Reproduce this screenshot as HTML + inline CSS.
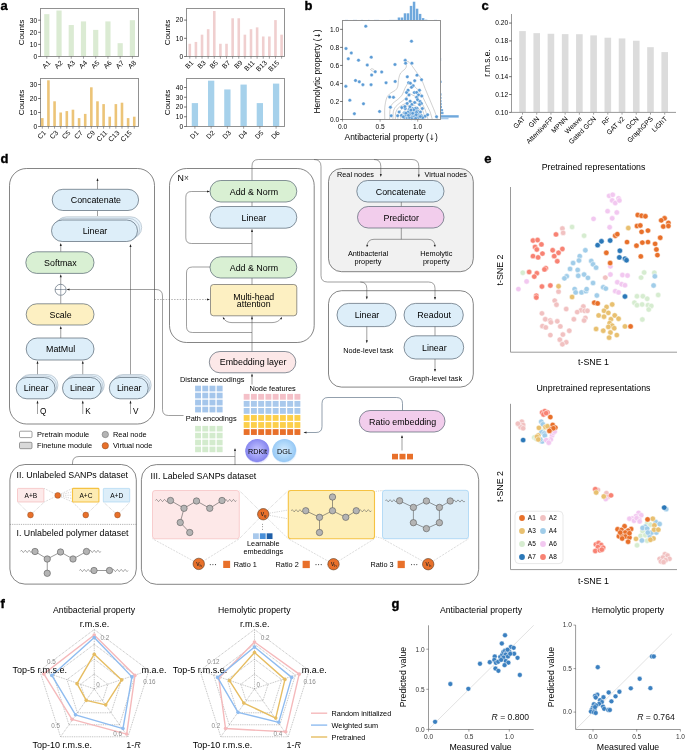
<!DOCTYPE html>
<html lang="en"><head><meta charset="utf-8"><title>Figure</title>
<style>
html,body{margin:0;padding:0;background:#fff;}
body{width:685px;height:751px;overflow:hidden;}
svg{display:block;}
svg text{font-family:"Liberation Sans", "DejaVu Sans", sans-serif;fill:#000;}
</style></head><body>
<svg width="685" height="751" viewBox="0 0 685 751">
<rect x="0" y="0" width="685" height="751" fill="#fff"/>
<text x="0.6" y="10.2" font-size="13" style="fill:#000" font-weight="bold" stroke="#000" stroke-width="0.35">a</text>
<rect x="44.2" y="14.15" width="5.2" height="42.35" fill="#dbebd3"/>
<rect x="56.43" y="10.52" width="5.2" height="45.98" fill="#dbebd3"/>
<rect x="68.66" y="25.04" width="5.2" height="31.46" fill="#dbebd3"/>
<rect x="80.89" y="21.41" width="5.2" height="35.09" fill="#dbebd3"/>
<rect x="93.12" y="29.88" width="5.2" height="26.62" fill="#dbebd3"/>
<rect x="105.35" y="21.41" width="5.2" height="35.09" fill="#dbebd3"/>
<rect x="117.58" y="43.19" width="5.2" height="13.31" fill="#dbebd3"/>
<rect x="129.81" y="20.2" width="5.2" height="36.3" fill="#dbebd3"/>
<rect x="40.5" y="8.5" width="98" height="48" fill="none" stroke="#8c8c8c" stroke-width="0.95"/>
<line x1="38.1" y1="56.5" x2="40.5" y2="56.5" stroke="#333" stroke-width="0.7"/>
<text x="37.1" y="58.8" font-size="6.6" text-anchor="end">0</text>
<line x1="38.1" y1="44.4" x2="40.5" y2="44.4" stroke="#333" stroke-width="0.7"/>
<text x="37.1" y="46.7" font-size="6.6" text-anchor="end">10</text>
<line x1="38.1" y1="32.3" x2="40.5" y2="32.3" stroke="#333" stroke-width="0.7"/>
<text x="37.1" y="34.6" font-size="6.6" text-anchor="end">20</text>
<line x1="38.1" y1="20.2" x2="40.5" y2="20.2" stroke="#333" stroke-width="0.7"/>
<text x="37.1" y="22.5" font-size="6.6" text-anchor="end">30</text>
<line x1="46.8" y1="56.5" x2="46.8" y2="58.7" stroke="#444" stroke-width="0.5"/>
<text x="51" y="63.3" font-size="6.9" text-anchor="end" style="fill:#000" transform="rotate(-45 51 63.3)">A1</text>
<line x1="59.03" y1="56.5" x2="59.03" y2="58.7" stroke="#444" stroke-width="0.5"/>
<text x="63.23" y="63.3" font-size="6.9" text-anchor="end" style="fill:#000" transform="rotate(-45 63.23 63.3)">A2</text>
<line x1="71.26" y1="56.5" x2="71.26" y2="58.7" stroke="#444" stroke-width="0.5"/>
<text x="75.46" y="63.3" font-size="6.9" text-anchor="end" style="fill:#000" transform="rotate(-45 75.46 63.3)">A3</text>
<line x1="83.49" y1="56.5" x2="83.49" y2="58.7" stroke="#444" stroke-width="0.5"/>
<text x="87.69" y="63.3" font-size="6.9" text-anchor="end" style="fill:#000" transform="rotate(-45 87.69 63.3)">A4</text>
<line x1="95.72" y1="56.5" x2="95.72" y2="58.7" stroke="#444" stroke-width="0.5"/>
<text x="99.92" y="63.3" font-size="6.9" text-anchor="end" style="fill:#000" transform="rotate(-45 99.92 63.3)">A5</text>
<line x1="107.95" y1="56.5" x2="107.95" y2="58.7" stroke="#444" stroke-width="0.5"/>
<text x="112.15" y="63.3" font-size="6.9" text-anchor="end" style="fill:#000" transform="rotate(-45 112.15 63.3)">A6</text>
<line x1="120.18" y1="56.5" x2="120.18" y2="58.7" stroke="#444" stroke-width="0.5"/>
<text x="124.38" y="63.3" font-size="6.9" text-anchor="end" style="fill:#000" transform="rotate(-45 124.38 63.3)">A7</text>
<line x1="132.41" y1="56.5" x2="132.41" y2="58.7" stroke="#444" stroke-width="0.5"/>
<text x="136.61" y="63.3" font-size="6.9" text-anchor="end" style="fill:#000" transform="rotate(-45 136.61 63.3)">A8</text>
<text x="23.5" y="32.5" font-size="8.1" text-anchor="middle" transform="rotate(-90 23.5 32.5)">Counts</text>
<rect x="41" y="118.1" width="2.6" height="8.4" fill="#ecc478"/>
<rect x="47.13" y="80.3" width="2.6" height="46.2" fill="#ecc478"/>
<rect x="53.26" y="101.3" width="2.6" height="25.2" fill="#ecc478"/>
<rect x="59.39" y="112.5" width="2.6" height="14" fill="#ecc478"/>
<rect x="65.52" y="111.1" width="2.6" height="15.4" fill="#ecc478"/>
<rect x="71.65" y="109.7" width="2.6" height="16.8" fill="#ecc478"/>
<rect x="77.78" y="118.1" width="2.6" height="8.4" fill="#ecc478"/>
<rect x="83.91" y="113.9" width="2.6" height="12.6" fill="#ecc478"/>
<rect x="90.04" y="87.3" width="2.6" height="39.2" fill="#ecc478"/>
<rect x="96.17" y="101.3" width="2.6" height="25.2" fill="#ecc478"/>
<rect x="102.3" y="104.1" width="2.6" height="22.4" fill="#ecc478"/>
<rect x="108.43" y="116.7" width="2.6" height="9.8" fill="#ecc478"/>
<rect x="114.56" y="104.1" width="2.6" height="22.4" fill="#ecc478"/>
<rect x="120.69" y="102.7" width="2.6" height="23.8" fill="#ecc478"/>
<rect x="126.82" y="118.1" width="2.6" height="8.4" fill="#ecc478"/>
<rect x="132.95" y="116.7" width="2.6" height="9.8" fill="#ecc478"/>
<rect x="40.5" y="78.5" width="98" height="48" fill="none" stroke="#8c8c8c" stroke-width="0.95"/>
<line x1="38.1" y1="126.5" x2="40.5" y2="126.5" stroke="#333" stroke-width="0.7"/>
<text x="37.1" y="128.8" font-size="6.6" text-anchor="end">0</text>
<line x1="38.1" y1="112.5" x2="40.5" y2="112.5" stroke="#333" stroke-width="0.7"/>
<text x="37.1" y="114.8" font-size="6.6" text-anchor="end">10</text>
<line x1="38.1" y1="98.5" x2="40.5" y2="98.5" stroke="#333" stroke-width="0.7"/>
<text x="37.1" y="100.8" font-size="6.6" text-anchor="end">20</text>
<line x1="38.1" y1="84.5" x2="40.5" y2="84.5" stroke="#333" stroke-width="0.7"/>
<text x="37.1" y="86.8" font-size="6.6" text-anchor="end">30</text>
<line x1="42.3" y1="126.5" x2="42.3" y2="128.7" stroke="#444" stroke-width="0.5"/>
<text x="46.5" y="133.3" font-size="6.9" text-anchor="end" style="fill:#000" transform="rotate(-45 46.5 133.3)">C1</text>
<line x1="48.43" y1="126.5" x2="48.43" y2="128.7" stroke="#444" stroke-width="0.5"/>
<line x1="54.56" y1="126.5" x2="54.56" y2="128.7" stroke="#444" stroke-width="0.5"/>
<text x="58.76" y="133.3" font-size="6.9" text-anchor="end" style="fill:#000" transform="rotate(-45 58.76 133.3)">C3</text>
<line x1="60.69" y1="126.5" x2="60.69" y2="128.7" stroke="#444" stroke-width="0.5"/>
<line x1="66.82" y1="126.5" x2="66.82" y2="128.7" stroke="#444" stroke-width="0.5"/>
<text x="71.02" y="133.3" font-size="6.9" text-anchor="end" style="fill:#000" transform="rotate(-45 71.02 133.3)">C5</text>
<line x1="72.95" y1="126.5" x2="72.95" y2="128.7" stroke="#444" stroke-width="0.5"/>
<line x1="79.08" y1="126.5" x2="79.08" y2="128.7" stroke="#444" stroke-width="0.5"/>
<text x="83.28" y="133.3" font-size="6.9" text-anchor="end" style="fill:#000" transform="rotate(-45 83.28 133.3)">C7</text>
<line x1="85.21" y1="126.5" x2="85.21" y2="128.7" stroke="#444" stroke-width="0.5"/>
<line x1="91.34" y1="126.5" x2="91.34" y2="128.7" stroke="#444" stroke-width="0.5"/>
<text x="95.54" y="133.3" font-size="6.9" text-anchor="end" style="fill:#000" transform="rotate(-45 95.54 133.3)">C9</text>
<line x1="97.47" y1="126.5" x2="97.47" y2="128.7" stroke="#444" stroke-width="0.5"/>
<line x1="103.6" y1="126.5" x2="103.6" y2="128.7" stroke="#444" stroke-width="0.5"/>
<text x="107.8" y="133.3" font-size="6.9" text-anchor="end" style="fill:#000" transform="rotate(-45 107.8 133.3)">C11</text>
<line x1="109.73" y1="126.5" x2="109.73" y2="128.7" stroke="#444" stroke-width="0.5"/>
<line x1="115.86" y1="126.5" x2="115.86" y2="128.7" stroke="#444" stroke-width="0.5"/>
<text x="120.06" y="133.3" font-size="6.9" text-anchor="end" style="fill:#000" transform="rotate(-45 120.06 133.3)">C13</text>
<line x1="121.99" y1="126.5" x2="121.99" y2="128.7" stroke="#444" stroke-width="0.5"/>
<line x1="128.12" y1="126.5" x2="128.12" y2="128.7" stroke="#444" stroke-width="0.5"/>
<text x="132.32" y="133.3" font-size="6.9" text-anchor="end" style="fill:#000" transform="rotate(-45 132.32 133.3)">C15</text>
<line x1="134.25" y1="126.5" x2="134.25" y2="128.7" stroke="#444" stroke-width="0.5"/>
<text x="23.5" y="102.5" font-size="8.1" text-anchor="middle" transform="rotate(-90 23.5 102.5)">Counts</text>
<rect x="188.5" y="43.76" width="2.6" height="12.74" fill="#f0cfcf"/>
<rect x="194.62" y="41.94" width="2.6" height="14.56" fill="#f0cfcf"/>
<rect x="200.74" y="34.66" width="2.6" height="21.84" fill="#f0cfcf"/>
<rect x="206.86" y="29.2" width="2.6" height="27.3" fill="#f0cfcf"/>
<rect x="212.98" y="11" width="2.6" height="45.5" fill="#f0cfcf"/>
<rect x="219.1" y="43.76" width="2.6" height="12.74" fill="#f0cfcf"/>
<rect x="225.22" y="43.76" width="2.6" height="12.74" fill="#f0cfcf"/>
<rect x="231.34" y="18.28" width="2.6" height="38.22" fill="#f0cfcf"/>
<rect x="237.46" y="18.28" width="2.6" height="38.22" fill="#f0cfcf"/>
<rect x="243.58" y="34.66" width="2.6" height="21.84" fill="#f0cfcf"/>
<rect x="249.7" y="29.2" width="2.6" height="27.3" fill="#f0cfcf"/>
<rect x="255.82" y="27.38" width="2.6" height="29.12" fill="#f0cfcf"/>
<rect x="261.94" y="36.48" width="2.6" height="20.02" fill="#f0cfcf"/>
<rect x="268.06" y="36.48" width="2.6" height="20.02" fill="#f0cfcf"/>
<rect x="274.18" y="20.1" width="2.6" height="36.4" fill="#f0cfcf"/>
<rect x="280.3" y="34.66" width="2.6" height="21.84" fill="#f0cfcf"/>
<rect x="186.5" y="8.5" width="98" height="48" fill="none" stroke="#8c8c8c" stroke-width="0.95"/>
<line x1="184.1" y1="56.5" x2="186.5" y2="56.5" stroke="#333" stroke-width="0.7"/>
<text x="183.1" y="58.8" font-size="6.6" text-anchor="end">0</text>
<line x1="184.1" y1="38.3" x2="186.5" y2="38.3" stroke="#333" stroke-width="0.7"/>
<text x="183.1" y="40.6" font-size="6.6" text-anchor="end">10</text>
<line x1="184.1" y1="20.1" x2="186.5" y2="20.1" stroke="#333" stroke-width="0.7"/>
<text x="183.1" y="22.4" font-size="6.6" text-anchor="end">20</text>
<line x1="189.8" y1="56.5" x2="189.8" y2="58.7" stroke="#444" stroke-width="0.5"/>
<text x="194" y="63.3" font-size="6.9" text-anchor="end" style="fill:#000" transform="rotate(-45 194 63.3)">B1</text>
<line x1="195.92" y1="56.5" x2="195.92" y2="58.7" stroke="#444" stroke-width="0.5"/>
<line x1="202.04" y1="56.5" x2="202.04" y2="58.7" stroke="#444" stroke-width="0.5"/>
<text x="206.24" y="63.3" font-size="6.9" text-anchor="end" style="fill:#000" transform="rotate(-45 206.24 63.3)">B3</text>
<line x1="208.16" y1="56.5" x2="208.16" y2="58.7" stroke="#444" stroke-width="0.5"/>
<line x1="214.28" y1="56.5" x2="214.28" y2="58.7" stroke="#444" stroke-width="0.5"/>
<text x="218.48" y="63.3" font-size="6.9" text-anchor="end" style="fill:#000" transform="rotate(-45 218.48 63.3)">B5</text>
<line x1="220.4" y1="56.5" x2="220.4" y2="58.7" stroke="#444" stroke-width="0.5"/>
<line x1="226.52" y1="56.5" x2="226.52" y2="58.7" stroke="#444" stroke-width="0.5"/>
<text x="230.72" y="63.3" font-size="6.9" text-anchor="end" style="fill:#000" transform="rotate(-45 230.72 63.3)">B7</text>
<line x1="232.64" y1="56.5" x2="232.64" y2="58.7" stroke="#444" stroke-width="0.5"/>
<line x1="238.76" y1="56.5" x2="238.76" y2="58.7" stroke="#444" stroke-width="0.5"/>
<text x="242.96" y="63.3" font-size="6.9" text-anchor="end" style="fill:#000" transform="rotate(-45 242.96 63.3)">B9</text>
<line x1="244.88" y1="56.5" x2="244.88" y2="58.7" stroke="#444" stroke-width="0.5"/>
<line x1="251" y1="56.5" x2="251" y2="58.7" stroke="#444" stroke-width="0.5"/>
<text x="255.2" y="63.3" font-size="6.9" text-anchor="end" style="fill:#000" transform="rotate(-45 255.2 63.3)">B11</text>
<line x1="257.12" y1="56.5" x2="257.12" y2="58.7" stroke="#444" stroke-width="0.5"/>
<line x1="263.24" y1="56.5" x2="263.24" y2="58.7" stroke="#444" stroke-width="0.5"/>
<text x="267.44" y="63.3" font-size="6.9" text-anchor="end" style="fill:#000" transform="rotate(-45 267.44 63.3)">B13</text>
<line x1="269.36" y1="56.5" x2="269.36" y2="58.7" stroke="#444" stroke-width="0.5"/>
<line x1="275.48" y1="56.5" x2="275.48" y2="58.7" stroke="#444" stroke-width="0.5"/>
<text x="279.68" y="63.3" font-size="6.9" text-anchor="end" style="fill:#000" transform="rotate(-45 279.68 63.3)">B15</text>
<line x1="281.6" y1="56.5" x2="281.6" y2="58.7" stroke="#444" stroke-width="0.5"/>
<text x="169.5" y="32.5" font-size="8.1" text-anchor="middle" transform="rotate(-90 169.5 32.5)">Counts</text>
<rect x="191.75" y="103.1" width="6.3" height="23.4" fill="#a6d1eb"/>
<rect x="207.99" y="80.68" width="6.3" height="45.82" fill="#a6d1eb"/>
<rect x="224.23" y="89.45" width="6.3" height="37.05" fill="#a6d1eb"/>
<rect x="240.47" y="84.58" width="6.3" height="41.92" fill="#a6d1eb"/>
<rect x="256.71" y="103.1" width="6.3" height="23.4" fill="#a6d1eb"/>
<rect x="272.95" y="83.6" width="6.3" height="42.9" fill="#a6d1eb"/>
<rect x="186.5" y="78.5" width="98" height="48" fill="none" stroke="#8c8c8c" stroke-width="0.95"/>
<line x1="184.1" y1="126.5" x2="186.5" y2="126.5" stroke="#333" stroke-width="0.7"/>
<text x="183.1" y="128.8" font-size="6.6" text-anchor="end">0</text>
<line x1="184.1" y1="116.75" x2="186.5" y2="116.75" stroke="#333" stroke-width="0.7"/>
<text x="183.1" y="119.05" font-size="6.6" text-anchor="end">10</text>
<line x1="184.1" y1="107" x2="186.5" y2="107" stroke="#333" stroke-width="0.7"/>
<text x="183.1" y="109.3" font-size="6.6" text-anchor="end">20</text>
<line x1="184.1" y1="97.25" x2="186.5" y2="97.25" stroke="#333" stroke-width="0.7"/>
<text x="183.1" y="99.55" font-size="6.6" text-anchor="end">30</text>
<line x1="184.1" y1="87.5" x2="186.5" y2="87.5" stroke="#333" stroke-width="0.7"/>
<text x="183.1" y="89.8" font-size="6.6" text-anchor="end">40</text>
<line x1="194.9" y1="126.5" x2="194.9" y2="128.7" stroke="#444" stroke-width="0.5"/>
<text x="199.1" y="133.3" font-size="6.9" text-anchor="end" style="fill:#000" transform="rotate(-45 199.1 133.3)">D1</text>
<line x1="211.14" y1="126.5" x2="211.14" y2="128.7" stroke="#444" stroke-width="0.5"/>
<text x="215.34" y="133.3" font-size="6.9" text-anchor="end" style="fill:#000" transform="rotate(-45 215.34 133.3)">D2</text>
<line x1="227.38" y1="126.5" x2="227.38" y2="128.7" stroke="#444" stroke-width="0.5"/>
<text x="231.58" y="133.3" font-size="6.9" text-anchor="end" style="fill:#000" transform="rotate(-45 231.58 133.3)">D3</text>
<line x1="243.62" y1="126.5" x2="243.62" y2="128.7" stroke="#444" stroke-width="0.5"/>
<text x="247.82" y="133.3" font-size="6.9" text-anchor="end" style="fill:#000" transform="rotate(-45 247.82 133.3)">D4</text>
<line x1="259.86" y1="126.5" x2="259.86" y2="128.7" stroke="#444" stroke-width="0.5"/>
<text x="264.06" y="133.3" font-size="6.9" text-anchor="end" style="fill:#000" transform="rotate(-45 264.06 133.3)">D5</text>
<line x1="276.1" y1="126.5" x2="276.1" y2="128.7" stroke="#444" stroke-width="0.5"/>
<text x="280.3" y="133.3" font-size="6.9" text-anchor="end" style="fill:#000" transform="rotate(-45 280.3 133.3)">D6</text>
<text x="169.5" y="102.5" font-size="8.1" text-anchor="middle" transform="rotate(-90 169.5 102.5)">Counts</text>
<text x="304.6" y="10.2" font-size="13" style="fill:#000" font-weight="bold" stroke="#000" stroke-width="0.35">b</text>
<rect x="397.7" y="17.5" width="2.5" height="3" fill="#6fa8dc"/>
<rect x="400.72" y="17.5" width="2.5" height="3" fill="#6fa8dc"/>
<rect x="403.74" y="13.3" width="2.5" height="7.2" fill="#6fa8dc"/>
<rect x="406.76" y="13.3" width="2.5" height="7.2" fill="#6fa8dc"/>
<rect x="409.78" y="5.9" width="2.5" height="14.6" fill="#6fa8dc"/>
<rect x="412.8" y="1.7" width="2.5" height="18.8" fill="#6fa8dc"/>
<rect x="415.82" y="8.7" width="2.5" height="11.8" fill="#6fa8dc"/>
<rect x="418.84" y="13.9" width="2.5" height="6.6" fill="#6fa8dc"/>
<rect x="421.86" y="18.1" width="2.5" height="2.4" fill="#6fa8dc"/>
<rect x="424.88" y="19.7" width="2.5" height="0.8" fill="#6fa8dc"/>
<rect x="345" y="19.9" width="3" height="0.6" fill="#6fa8dc"/>
<rect x="353" y="19.9" width="4" height="0.6" fill="#6fa8dc"/>
<rect x="361" y="19.9" width="2" height="0.6" fill="#6fa8dc"/>
<rect x="368" y="19.9" width="1.5" height="0.6" fill="#6fa8dc"/>
<rect x="374" y="19.9" width="5" height="0.6" fill="#6fa8dc"/>
<rect x="389" y="19.9" width="8" height="0.6" fill="#6fa8dc"/>
<rect x="434" y="19.9" width="3" height="0.6" fill="#6fa8dc"/>
<rect x="440.5" y="115.2" width="18.2" height="2.4" fill="#6fa8dc"/>
<rect x="440.5" y="117.9" width="8" height="1.4" fill="#6fa8dc" opacity="0.6"/>
<rect x="440.5" y="111.9" width="3" height="2.3" fill="#6fa8dc"/>
<rect x="440.5" y="109.1" width="2.6" height="2.2" fill="#6fa8dc"/>
<rect x="440.5" y="105.9" width="1.4" height="2.3" fill="#6fa8dc"/>
<rect x="440.5" y="102.9" width="1.2" height="2.3" fill="#6fa8dc"/>
<rect x="440.5" y="99.9" width="1" height="2.3" fill="#6fa8dc"/>
<rect x="440.5" y="96.9" width="1" height="2" fill="#6fa8dc"/>
<rect x="440.5" y="93.3" width="1" height="2.3" fill="#6fa8dc"/>
<rect x="440.5" y="80.7" width="1.1" height="2.2" fill="#6fa8dc"/>
<rect x="440.5" y="58" width="0.6" height="3" fill="#6fa8dc"/>
<path d="M384.79,119.22 C384.79,117.27 384.47,111.07 384.79,107.53 C385.11,103.98 385.75,100.34 386.71,97.94 C387.67,95.54 389.11,94.42 390.55,93.14 C391.98,91.87 394.14,91.39 395.34,90.27 C396.54,89.15 397.18,88.35 397.74,86.43 C398.3,84.52 398.22,81 398.7,78.76 C399.18,76.53 399.57,74.61 400.61,73.01 C401.65,71.41 403.97,70.29 404.93,69.18 C405.89,68.06 406.21,67.34 406.37,66.3 C406.53,65.26 405.78,63.74 405.89,62.94 C406,62.14 406.56,61.67 407.04,61.51 C407.52,61.35 408,61.35 408.76,61.98 C409.53,62.62 410.36,63.66 411.64,65.34 C412.92,67.02 414.84,69.81 416.43,72.05 C418.03,74.29 419.79,76.05 421.23,78.76 C422.67,81.48 423.62,84.84 425.06,88.35 C426.5,91.87 428.26,96.02 429.86,99.86 C431.45,103.69 433.37,108.13 434.65,111.36 C435.93,114.59 437.05,117.91 437.53,119.22" fill="none" stroke="#8a8a8a" stroke-width="0.4"/>
<path d="M389.59,119.22 C389.67,117.59 389.59,112.03 390.07,109.44 C390.55,106.86 391.27,105.29 392.46,103.69 C393.66,102.09 395.66,101.29 397.26,99.86 C398.86,98.42 400.77,96.98 402.05,95.06 C403.33,93.14 403.97,90.27 404.93,88.35 C405.89,86.43 407.01,84.6 407.8,83.56 C408.6,82.52 408.76,81.8 409.72,82.12 C410.68,82.44 412.12,84.12 413.56,85.47 C415,86.83 416.91,88.51 418.35,90.27 C419.79,92.03 420.91,93.78 422.19,96.02 C423.46,98.26 424.74,101.13 426.02,103.69 C427.3,106.25 428.82,108.77 429.86,111.36 C430.89,113.95 431.85,117.91 432.25,119.22" fill="none" stroke="#8a8a8a" stroke-width="0.4"/>
<path d="M392.94,119.22 C393.02,117.91 392.94,113.47 393.42,111.36 C393.9,109.25 394.7,108.01 395.82,106.57 C396.94,105.13 398.62,104.01 400.13,102.73 C401.65,101.45 403.65,100.18 404.93,98.9 C406.21,97.62 407.09,95.94 407.8,95.06 C408.52,94.18 408.44,93.62 409.24,93.62 C410.04,93.62 411.24,94.34 412.6,95.06 C413.96,95.78 415.95,96.74 417.39,97.94 C418.83,99.14 419.95,100.34 421.23,102.25 C422.51,104.17 423.94,106.62 425.06,109.44 C426.18,112.27 427.46,117.59 427.94,119.22" fill="none" stroke="#8a8a8a" stroke-width="0.4"/>
<path d="M395.34,119.22 C395.42,118.07 395.26,114.27 395.82,112.32 C396.38,110.37 397.34,108.88 398.7,107.53 C400.05,106.17 402.29,105.05 403.97,104.17 C405.65,103.29 407.33,102.65 408.76,102.25 C410.2,101.85 411.16,101.53 412.6,101.77 C414.04,102.01 415.95,102.73 417.39,103.69 C418.83,104.65 420.19,105.93 421.23,107.53 C422.27,109.12 422.98,111.33 423.62,113.28 C424.26,115.23 424.82,118.23 425.06,119.22" fill="none" stroke="#8a8a8a" stroke-width="0.4"/>
<path d="M397.74,119.22 C397.9,118.23 397.98,114.99 398.7,113.28 C399.42,111.57 400.69,110.16 402.05,108.96 C403.41,107.77 405.25,106.73 406.85,106.09 C408.44,105.45 410.04,105.05 411.64,105.13 C413.24,105.21 415.08,105.77 416.43,106.57 C417.79,107.37 418.91,108.49 419.79,109.92 C420.67,111.36 421.31,113.65 421.71,115.2 C422.11,116.75 422.11,118.55 422.19,119.22" fill="none" stroke="#8a8a8a" stroke-width="0.4"/>
<path d="M400.61,119.22 C400.77,118.39 400.85,115.71 401.57,114.24 C402.29,112.77 403.57,111.36 404.93,110.4 C406.29,109.44 408.28,108.84 409.72,108.49 C411.16,108.13 412.36,107.97 413.56,108.29 C414.76,108.61 416.03,109.41 416.91,110.4 C417.79,111.39 418.4,112.77 418.83,114.24 C419.26,115.71 419.39,118.39 419.5,119.22" fill="none" stroke="#8a8a8a" stroke-width="0.4"/>
<path d="M403.97,119.22 C404.21,118.39 404.61,115.47 405.41,114.24 C406.21,113.01 407.56,112.32 408.76,111.84 C409.96,111.36 411.48,111.12 412.6,111.36 C413.72,111.6 414.84,111.97 415.47,113.28 C416.11,114.59 416.27,118.23 416.43,119.22" fill="none" stroke="#8a8a8a" stroke-width="0.4"/>
<path d="M370.7,69.3 C371.4,68.3 373,68.7 374.5,70.2 C375.6,71.7 374.5,72.1 373,71.4 C371.8,70.6 370.3,70.2 370.7,69.3 Z" fill="none" stroke="#8a8a8a" stroke-width="0.4"/>
<path d="M358.2,81.2 C358.9,80.8 360,81.6 360.4,82.4" fill="none" stroke="#8a8a8a" stroke-width="0.4"/>
<circle cx="365.75" cy="26.19" r="1.75" fill="#5b9bd5" stroke="#fff" stroke-width="0.4"/>
<circle cx="411.49" cy="41.18" r="1.75" fill="#5b9bd5" stroke="#fff" stroke-width="0.4"/>
<circle cx="346.01" cy="48.59" r="1.75" fill="#5b9bd5" stroke="#fff" stroke-width="0.4"/>
<circle cx="351.32" cy="52.95" r="1.75" fill="#5b9bd5" stroke="#fff" stroke-width="0.4"/>
<circle cx="348.29" cy="58.83" r="1.75" fill="#5b9bd5" stroke="#fff" stroke-width="0.4"/>
<circle cx="358.53" cy="60.16" r="1.75" fill="#5b9bd5" stroke="#fff" stroke-width="0.4"/>
<circle cx="371.25" cy="57.13" r="1.75" fill="#5b9bd5" stroke="#fff" stroke-width="0.4"/>
<circle cx="367.26" cy="65.1" r="1.75" fill="#5b9bd5" stroke="#fff" stroke-width="0.4"/>
<circle cx="394.97" cy="64.53" r="1.75" fill="#5b9bd5" stroke="#fff" stroke-width="0.4"/>
<circle cx="405.22" cy="60.35" r="1.75" fill="#5b9bd5" stroke="#fff" stroke-width="0.4"/>
<circle cx="405.6" cy="63.2" r="1.75" fill="#5b9bd5" stroke="#fff" stroke-width="0.4"/>
<circle cx="411.86" cy="63.2" r="1.75" fill="#5b9bd5" stroke="#fff" stroke-width="0.4"/>
<circle cx="375.24" cy="71.74" r="1.75" fill="#5b9bd5" stroke="#fff" stroke-width="0.4"/>
<circle cx="381.69" cy="71.93" r="1.75" fill="#5b9bd5" stroke="#fff" stroke-width="0.4"/>
<circle cx="371.63" cy="74.97" r="1.75" fill="#5b9bd5" stroke="#fff" stroke-width="0.4"/>
<circle cx="407.31" cy="76.86" r="1.75" fill="#5b9bd5" stroke="#fff" stroke-width="0.4"/>
<circle cx="416.99" cy="75.16" r="1.75" fill="#5b9bd5" stroke="#fff" stroke-width="0.4"/>
<circle cx="355.5" cy="80.47" r="1.75" fill="#5b9bd5" stroke="#fff" stroke-width="0.4"/>
<circle cx="359.29" cy="81.8" r="1.75" fill="#5b9bd5" stroke="#fff" stroke-width="0.4"/>
<circle cx="362.9" cy="84.65" r="1.75" fill="#5b9bd5" stroke="#fff" stroke-width="0.4"/>
<circle cx="371.06" cy="84.65" r="1.75" fill="#5b9bd5" stroke="#fff" stroke-width="0.4"/>
<circle cx="386.05" cy="82.75" r="1.75" fill="#5b9bd5" stroke="#fff" stroke-width="0.4"/>
<circle cx="395.16" cy="81.42" r="1.75" fill="#5b9bd5" stroke="#fff" stroke-width="0.4"/>
<circle cx="421.54" cy="79.71" r="1.75" fill="#5b9bd5" stroke="#fff" stroke-width="0.4"/>
<circle cx="414.71" cy="80.66" r="1.75" fill="#5b9bd5" stroke="#fff" stroke-width="0.4"/>
<circle cx="345.82" cy="86.35" r="1.75" fill="#5b9bd5" stroke="#fff" stroke-width="0.4"/>
<circle cx="408.64" cy="82.75" r="1.75" fill="#5b9bd5" stroke="#fff" stroke-width="0.4"/>
<circle cx="410.35" cy="83.13" r="1.75" fill="#5b9bd5" stroke="#fff" stroke-width="0.4"/>
<circle cx="413.19" cy="85.78" r="1.75" fill="#5b9bd5" stroke="#fff" stroke-width="0.4"/>
<circle cx="411.49" cy="87.3" r="1.75" fill="#5b9bd5" stroke="#fff" stroke-width="0.4"/>
<circle cx="408.07" cy="90.15" r="1.75" fill="#5b9bd5" stroke="#fff" stroke-width="0.4"/>
<circle cx="419.46" cy="90.15" r="1.75" fill="#5b9bd5" stroke="#fff" stroke-width="0.4"/>
<circle cx="406.55" cy="92.62" r="1.75" fill="#5b9bd5" stroke="#fff" stroke-width="0.4"/>
<circle cx="414.33" cy="92.62" r="1.75" fill="#5b9bd5" stroke="#fff" stroke-width="0.4"/>
<circle cx="416.61" cy="92.43" r="1.75" fill="#5b9bd5" stroke="#fff" stroke-width="0.4"/>
<circle cx="409.02" cy="94.89" r="1.75" fill="#5b9bd5" stroke="#fff" stroke-width="0.4"/>
<circle cx="418.51" cy="94.89" r="1.75" fill="#5b9bd5" stroke="#fff" stroke-width="0.4"/>
<circle cx="421.73" cy="96.03" r="1.75" fill="#5b9bd5" stroke="#fff" stroke-width="0.4"/>
<circle cx="389.66" cy="96.98" r="1.75" fill="#5b9bd5" stroke="#fff" stroke-width="0.4"/>
<circle cx="393.46" cy="97.36" r="1.75" fill="#5b9bd5" stroke="#fff" stroke-width="0.4"/>
<circle cx="349.8" cy="100.21" r="1.75" fill="#5b9bd5" stroke="#fff" stroke-width="0.4"/>
<circle cx="406.36" cy="99.07" r="1.75" fill="#5b9bd5" stroke="#fff" stroke-width="0.4"/>
<circle cx="410.16" cy="101.16" r="1.75" fill="#5b9bd5" stroke="#fff" stroke-width="0.4"/>
<circle cx="416.61" cy="97.36" r="1.75" fill="#5b9bd5" stroke="#fff" stroke-width="0.4"/>
<circle cx="417.56" cy="99.64" r="1.75" fill="#5b9bd5" stroke="#fff" stroke-width="0.4"/>
<circle cx="363.47" cy="103.81" r="1.75" fill="#5b9bd5" stroke="#fff" stroke-width="0.4"/>
<circle cx="420.03" cy="101.54" r="1.75" fill="#5b9bd5" stroke="#fff" stroke-width="0.4"/>
<circle cx="421.35" cy="103.44" r="1.75" fill="#5b9bd5" stroke="#fff" stroke-width="0.4"/>
<circle cx="407.12" cy="103.44" r="1.75" fill="#5b9bd5" stroke="#fff" stroke-width="0.4"/>
<circle cx="411.86" cy="104.38" r="1.75" fill="#5b9bd5" stroke="#fff" stroke-width="0.4"/>
<circle cx="414.71" cy="102.49" r="1.75" fill="#5b9bd5" stroke="#fff" stroke-width="0.4"/>
<circle cx="390.42" cy="107.23" r="1.75" fill="#5b9bd5" stroke="#fff" stroke-width="0.4"/>
<circle cx="379.6" cy="111.41" r="1.75" fill="#5b9bd5" stroke="#fff" stroke-width="0.4"/>
<circle cx="354.36" cy="113.68" r="1.75" fill="#5b9bd5" stroke="#fff" stroke-width="0.4"/>
<circle cx="401.81" cy="107.61" r="1.75" fill="#5b9bd5" stroke="#fff" stroke-width="0.4"/>
<circle cx="405.22" cy="108.56" r="1.75" fill="#5b9bd5" stroke="#fff" stroke-width="0.4"/>
<circle cx="409.4" cy="109.13" r="1.75" fill="#5b9bd5" stroke="#fff" stroke-width="0.4"/>
<circle cx="412.81" cy="108.56" r="1.75" fill="#5b9bd5" stroke="#fff" stroke-width="0.4"/>
<circle cx="416.99" cy="108.18" r="1.75" fill="#5b9bd5" stroke="#fff" stroke-width="0.4"/>
<circle cx="422.3" cy="108.56" r="1.75" fill="#5b9bd5" stroke="#fff" stroke-width="0.4"/>
<circle cx="399.15" cy="111.98" r="1.75" fill="#5b9bd5" stroke="#fff" stroke-width="0.4"/>
<circle cx="404.27" cy="112.92" r="1.75" fill="#5b9bd5" stroke="#fff" stroke-width="0.4"/>
<circle cx="408.07" cy="111.98" r="1.75" fill="#5b9bd5" stroke="#fff" stroke-width="0.4"/>
<circle cx="411.86" cy="111.98" r="1.75" fill="#5b9bd5" stroke="#fff" stroke-width="0.4"/>
<circle cx="414.71" cy="111.03" r="1.75" fill="#5b9bd5" stroke="#fff" stroke-width="0.4"/>
<circle cx="417.56" cy="111.03" r="1.75" fill="#5b9bd5" stroke="#fff" stroke-width="0.4"/>
<circle cx="420.41" cy="111.98" r="1.75" fill="#5b9bd5" stroke="#fff" stroke-width="0.4"/>
<circle cx="391.18" cy="115.77" r="1.75" fill="#5b9bd5" stroke="#fff" stroke-width="0.4"/>
<circle cx="397.63" cy="115.77" r="1.75" fill="#5b9bd5" stroke="#fff" stroke-width="0.4"/>
<circle cx="401.43" cy="115.39" r="1.75" fill="#5b9bd5" stroke="#fff" stroke-width="0.4"/>
<circle cx="405.6" cy="115.77" r="1.75" fill="#5b9bd5" stroke="#fff" stroke-width="0.4"/>
<circle cx="409.02" cy="115.2" r="1.75" fill="#5b9bd5" stroke="#fff" stroke-width="0.4"/>
<circle cx="411.3" cy="116.15" r="1.75" fill="#5b9bd5" stroke="#fff" stroke-width="0.4"/>
<circle cx="413.76" cy="114.82" r="1.75" fill="#5b9bd5" stroke="#fff" stroke-width="0.4"/>
<circle cx="416.23" cy="115.77" r="1.75" fill="#5b9bd5" stroke="#fff" stroke-width="0.4"/>
<circle cx="418.51" cy="114.82" r="1.75" fill="#5b9bd5" stroke="#fff" stroke-width="0.4"/>
<circle cx="421.35" cy="115.77" r="1.75" fill="#5b9bd5" stroke="#fff" stroke-width="0.4"/>
<circle cx="425.15" cy="116.15" r="1.75" fill="#5b9bd5" stroke="#fff" stroke-width="0.4"/>
<circle cx="427.62" cy="114.82" r="1.75" fill="#5b9bd5" stroke="#fff" stroke-width="0.4"/>
<circle cx="436.54" cy="116.72" r="1.75" fill="#5b9bd5" stroke="#fff" stroke-width="0.4"/>
<circle cx="404.27" cy="117.67" r="1.75" fill="#5b9bd5" stroke="#fff" stroke-width="0.4"/>
<circle cx="407.12" cy="118.05" r="1.75" fill="#5b9bd5" stroke="#fff" stroke-width="0.4"/>
<circle cx="410.54" cy="118.05" r="1.75" fill="#5b9bd5" stroke="#fff" stroke-width="0.4"/>
<circle cx="412.81" cy="118.05" r="1.75" fill="#5b9bd5" stroke="#fff" stroke-width="0.4"/>
<circle cx="415.09" cy="117.67" r="1.75" fill="#5b9bd5" stroke="#fff" stroke-width="0.4"/>
<circle cx="417.75" cy="117.67" r="1.75" fill="#5b9bd5" stroke="#fff" stroke-width="0.4"/>
<circle cx="420.03" cy="117.29" r="1.75" fill="#5b9bd5" stroke="#fff" stroke-width="0.4"/>
<circle cx="422.68" cy="117.67" r="1.75" fill="#5b9bd5" stroke="#fff" stroke-width="0.4"/>
<circle cx="411.93" cy="115.5" r="1.75" fill="#5b9bd5" stroke="#fff" stroke-width="0.4"/>
<circle cx="412.08" cy="116.92" r="1.75" fill="#5b9bd5" stroke="#fff" stroke-width="0.4"/>
<circle cx="408.6" cy="117.65" r="1.75" fill="#5b9bd5" stroke="#fff" stroke-width="0.4"/>
<circle cx="418.68" cy="116.13" r="1.75" fill="#5b9bd5" stroke="#fff" stroke-width="0.4"/>
<circle cx="418.31" cy="117.39" r="1.75" fill="#5b9bd5" stroke="#fff" stroke-width="0.4"/>
<circle cx="415.14" cy="117.85" r="1.75" fill="#5b9bd5" stroke="#fff" stroke-width="0.4"/>
<circle cx="404.97" cy="113.02" r="1.75" fill="#5b9bd5" stroke="#fff" stroke-width="0.4"/>
<circle cx="415.69" cy="115.59" r="1.75" fill="#5b9bd5" stroke="#fff" stroke-width="0.4"/>
<circle cx="404.85" cy="106.61" r="1.75" fill="#5b9bd5" stroke="#fff" stroke-width="0.4"/>
<circle cx="408.8" cy="115.81" r="1.75" fill="#5b9bd5" stroke="#fff" stroke-width="0.4"/>
<circle cx="414.7" cy="118.43" r="1.75" fill="#5b9bd5" stroke="#fff" stroke-width="0.4"/>
<circle cx="415.76" cy="114.56" r="1.75" fill="#5b9bd5" stroke="#fff" stroke-width="0.4"/>
<circle cx="414.72" cy="116.35" r="1.75" fill="#5b9bd5" stroke="#fff" stroke-width="0.4"/>
<circle cx="409.93" cy="106.8" r="1.75" fill="#5b9bd5" stroke="#fff" stroke-width="0.4"/>
<circle cx="415.94" cy="110.55" r="1.75" fill="#5b9bd5" stroke="#fff" stroke-width="0.4"/>
<circle cx="410.13" cy="113.85" r="1.75" fill="#5b9bd5" stroke="#fff" stroke-width="0.4"/>
<circle cx="411.5" cy="118.42" r="1.75" fill="#5b9bd5" stroke="#fff" stroke-width="0.4"/>
<circle cx="416.31" cy="117.4" r="1.75" fill="#5b9bd5" stroke="#fff" stroke-width="0.4"/>
<circle cx="410.99" cy="112.29" r="1.75" fill="#5b9bd5" stroke="#fff" stroke-width="0.4"/>
<circle cx="410.62" cy="110.38" r="1.75" fill="#5b9bd5" stroke="#fff" stroke-width="0.4"/>
<circle cx="409.21" cy="117.42" r="1.75" fill="#5b9bd5" stroke="#fff" stroke-width="0.4"/>
<circle cx="415.3" cy="108.44" r="1.75" fill="#5b9bd5" stroke="#fff" stroke-width="0.4"/>
<circle cx="413.43" cy="109.77" r="1.75" fill="#5b9bd5" stroke="#fff" stroke-width="0.4"/>
<circle cx="403.25" cy="116.87" r="1.75" fill="#5b9bd5" stroke="#fff" stroke-width="0.4"/>
<circle cx="412.67" cy="113.29" r="1.75" fill="#5b9bd5" stroke="#fff" stroke-width="0.4"/>
<circle cx="415.65" cy="118.43" r="1.75" fill="#5b9bd5" stroke="#fff" stroke-width="0.4"/>
<circle cx="405.97" cy="113.22" r="1.75" fill="#5b9bd5" stroke="#fff" stroke-width="0.4"/>
<circle cx="416.5" cy="112.37" r="1.75" fill="#5b9bd5" stroke="#fff" stroke-width="0.4"/>
<circle cx="420.3" cy="116.58" r="1.75" fill="#5b9bd5" stroke="#fff" stroke-width="0.4"/>
<circle cx="413.78" cy="109.82" r="1.75" fill="#5b9bd5" stroke="#fff" stroke-width="0.4"/>
<circle cx="416.23" cy="114.78" r="1.75" fill="#5b9bd5" stroke="#fff" stroke-width="0.4"/>
<circle cx="410.96" cy="110.07" r="1.75" fill="#5b9bd5" stroke="#fff" stroke-width="0.4"/>
<circle cx="408.42" cy="115.36" r="1.75" fill="#5b9bd5" stroke="#fff" stroke-width="0.4"/>
<circle cx="419.55" cy="104.53" r="1.75" fill="#5b9bd5" stroke="#fff" stroke-width="0.4"/>
<rect x="342.5" y="20.5" width="98" height="99" fill="none" stroke="#8c8c8c" stroke-width="0.95"/>
<line x1="340.1" y1="119.5" x2="342.5" y2="119.5" stroke="#333" stroke-width="0.7"/>
<text x="339.1" y="121.8" font-size="6.6" text-anchor="end">0.0</text>
<line x1="340.1" y1="101.47" x2="342.5" y2="101.47" stroke="#333" stroke-width="0.7"/>
<text x="339.1" y="103.77" font-size="6.6" text-anchor="end">0.2</text>
<line x1="340.1" y1="83.44" x2="342.5" y2="83.44" stroke="#333" stroke-width="0.7"/>
<text x="339.1" y="85.74" font-size="6.6" text-anchor="end">0.4</text>
<line x1="340.1" y1="65.41" x2="342.5" y2="65.41" stroke="#333" stroke-width="0.7"/>
<text x="339.1" y="67.71" font-size="6.6" text-anchor="end">0.6</text>
<line x1="340.1" y1="47.38" x2="342.5" y2="47.38" stroke="#333" stroke-width="0.7"/>
<text x="339.1" y="49.68" font-size="6.6" text-anchor="end">0.8</text>
<line x1="340.1" y1="29.35" x2="342.5" y2="29.35" stroke="#333" stroke-width="0.7"/>
<text x="339.1" y="31.65" font-size="6.6" text-anchor="end">1.0</text>
<line x1="342.5" y1="119.5" x2="342.5" y2="121.7" stroke="#444" stroke-width="0.5"/>
<text x="342.5" y="128.7" font-size="6.6" text-anchor="middle">0.0</text>
<line x1="380.1" y1="119.5" x2="380.1" y2="121.7" stroke="#444" stroke-width="0.5"/>
<text x="380.1" y="128.7" font-size="6.6" text-anchor="middle">0.5</text>
<line x1="417.7" y1="119.5" x2="417.7" y2="121.7" stroke="#444" stroke-width="0.5"/>
<text x="417.7" y="128.7" font-size="6.6" text-anchor="middle">1.0</text>
<text x="391.2" y="139.6" font-size="8.4" text-anchor="middle">Antibacterial property (<tspan font-family="DejaVu Sans" font-size="7.4">↓</tspan>)</text>
<text x="320" y="71.5" font-size="8.4" text-anchor="middle" transform="rotate(-90 320 71.5)">Hemolytic property (<tspan font-family="DejaVu Sans" font-size="7.4">↓</tspan>)</text>
<text x="481.4" y="10.2" font-size="13" style="fill:#000" font-weight="bold" stroke="#000" stroke-width="0.35">c</text>
<rect x="519.2" y="31.09" width="6.6" height="81.31" fill="#dcdcdc"/>
<line x1="522.5" y1="112.4" x2="522.5" y2="114.6" stroke="#444" stroke-width="0.5"/>
<text x="525.5" y="119.4" font-size="6.8" text-anchor="end" transform="rotate(-45 525.5 119.4)">GAT</text>
<rect x="533.42" y="33.15" width="6.6" height="79.25" fill="#dcdcdc"/>
<line x1="536.72" y1="112.4" x2="536.72" y2="114.6" stroke="#444" stroke-width="0.5"/>
<text x="539.72" y="119.4" font-size="6.8" text-anchor="end" transform="rotate(-45 539.72 119.4)">GIN</text>
<rect x="547.64" y="33.77" width="6.6" height="78.63" fill="#dcdcdc"/>
<line x1="550.94" y1="112.4" x2="550.94" y2="114.6" stroke="#444" stroke-width="0.5"/>
<text x="553.94" y="119.4" font-size="6.8" text-anchor="end" transform="rotate(-45 553.94 119.4)">AttentiveFP</text>
<rect x="561.86" y="34.13" width="6.6" height="78.27" fill="#dcdcdc"/>
<line x1="565.16" y1="112.4" x2="565.16" y2="114.6" stroke="#444" stroke-width="0.5"/>
<text x="568.16" y="119.4" font-size="6.8" text-anchor="end" transform="rotate(-45 568.16 119.4)">MPNN</text>
<rect x="576.08" y="34.22" width="6.6" height="78.18" fill="#dcdcdc"/>
<line x1="579.38" y1="112.4" x2="579.38" y2="114.6" stroke="#444" stroke-width="0.5"/>
<text x="582.38" y="119.4" font-size="6.8" text-anchor="end" transform="rotate(-45 582.38 119.4)">Weave</text>
<rect x="590.3" y="35.38" width="6.6" height="77.02" fill="#dcdcdc"/>
<line x1="593.6" y1="112.4" x2="593.6" y2="114.6" stroke="#444" stroke-width="0.5"/>
<text x="596.6" y="119.4" font-size="6.8" text-anchor="end" transform="rotate(-45 596.6 119.4)">Gated GCN</text>
<rect x="604.52" y="37.7" width="6.6" height="74.7" fill="#dcdcdc"/>
<line x1="607.82" y1="112.4" x2="607.82" y2="114.6" stroke="#444" stroke-width="0.5"/>
<text x="610.82" y="119.4" font-size="6.8" text-anchor="end" transform="rotate(-45 610.82 119.4)">RF</text>
<rect x="618.74" y="38.42" width="6.6" height="73.98" fill="#dcdcdc"/>
<line x1="622.04" y1="112.4" x2="622.04" y2="114.6" stroke="#444" stroke-width="0.5"/>
<text x="625.04" y="119.4" font-size="6.8" text-anchor="end" transform="rotate(-45 625.04 119.4)">GAT v2</text>
<rect x="632.96" y="40.74" width="6.6" height="71.66" fill="#dcdcdc"/>
<line x1="636.26" y1="112.4" x2="636.26" y2="114.6" stroke="#444" stroke-width="0.5"/>
<text x="639.26" y="119.4" font-size="6.8" text-anchor="end" transform="rotate(-45 639.26 119.4)">GCN</text>
<rect x="647.18" y="47.17" width="6.6" height="65.23" fill="#dcdcdc"/>
<line x1="650.48" y1="112.4" x2="650.48" y2="114.6" stroke="#444" stroke-width="0.5"/>
<text x="653.48" y="119.4" font-size="6.8" text-anchor="end" transform="rotate(-45 653.48 119.4)">GraphGPS</text>
<rect x="661.4" y="52.09" width="6.6" height="60.31" fill="#dcdcdc"/>
<line x1="664.7" y1="112.4" x2="664.7" y2="114.6" stroke="#444" stroke-width="0.5"/>
<text x="667.7" y="119.4" font-size="6.8" text-anchor="end" transform="rotate(-45 667.7 119.4)">LiGhT</text>
<path d="M511.5,14 V112.4 H676" fill="none" stroke="#9a9a9a" stroke-width="1"/>
<line x1="509.1" y1="112.4" x2="511.5" y2="112.4" stroke="#333" stroke-width="0.7"/>
<text x="508.1" y="114.7" font-size="6.6" text-anchor="end">0.10</text>
<line x1="509.1" y1="94.53" x2="511.5" y2="94.53" stroke="#333" stroke-width="0.7"/>
<text x="508.1" y="96.83" font-size="6.6" text-anchor="end">0.12</text>
<line x1="509.1" y1="76.66" x2="511.5" y2="76.66" stroke="#333" stroke-width="0.7"/>
<text x="508.1" y="78.96" font-size="6.6" text-anchor="end">0.14</text>
<line x1="509.1" y1="58.79" x2="511.5" y2="58.79" stroke="#333" stroke-width="0.7"/>
<text x="508.1" y="61.09" font-size="6.6" text-anchor="end">0.16</text>
<line x1="509.1" y1="40.92" x2="511.5" y2="40.92" stroke="#333" stroke-width="0.7"/>
<text x="508.1" y="43.22" font-size="6.6" text-anchor="end">0.18</text>
<line x1="509.1" y1="23.05" x2="511.5" y2="23.05" stroke="#333" stroke-width="0.7"/>
<text x="508.1" y="25.35" font-size="6.6" text-anchor="end">0.20</text>
<text x="489.6" y="62.9" font-size="8.4" text-anchor="middle" transform="rotate(-90 489.6 62.9)">r.m.s.e.</text>
<rect x="9.5" y="168.5" width="145" height="255.5" fill="#fff" stroke="#505050" stroke-width="0.7" rx="17"/>
<rect x="169.5" y="168.5" width="144.7" height="174" fill="#fff" stroke="#505050" stroke-width="0.7" rx="17"/>
<rect x="328.5" y="168.5" width="144.8" height="103.2" fill="#f1f1f1" stroke="#505050" stroke-width="0.7" rx="13"/>
<rect x="328.5" y="290.7" width="144.8" height="96.4" fill="#fff" stroke="#505050" stroke-width="0.7" rx="13"/>
<rect x="9.9" y="464.5" width="126.4" height="119.6" fill="#fff" stroke="#505050" stroke-width="0.7" rx="15"/>
<rect x="141.4" y="464.6" width="337.3" height="119.7" fill="#fff" stroke="#505050" stroke-width="0.7" rx="15"/>
<text x="0.5" y="162.5" font-size="13" style="fill:#000" font-weight="bold" stroke="#000" stroke-width="0.35">d</text>
<line x1="97.5" y1="189.3" x2="97.5" y2="179" stroke="#484848" stroke-width="0.52"/><polygon points="97.5,178 98.5,181 96.5,181" fill="#222"/>
<line x1="97.5" y1="210.7" x2="97.5" y2="216" stroke="#484848" stroke-width="0.52"/>
<rect x="52.2" y="189.3" width="86.4" height="21.2" fill="#ddeef9" stroke="#4a5a68" stroke-width="0.65" rx="10.6"/><text x="95.9" y="203.24" font-size="8.9" text-anchor="middle">Concatenate</text>
<rect x="55.7" y="216.8" width="86" height="21.5" fill="#e6f2fb" stroke="#8496a4" stroke-width="0.4" rx="10.75"/><rect x="53.6" y="218.4" width="86" height="21.5" fill="#e6f2fb" stroke="#8496a4" stroke-width="0.4" rx="10.75"/><rect x="51.5" y="220" width="86" height="21.5" fill="#ddeef9" stroke="#4a5a68" stroke-width="0.65" rx="10.75"/><text x="95" y="234.09" font-size="8.9" text-anchor="middle">Linear</text>
<line x1="60.75" y1="251.8" x2="60.75" y2="244" stroke="#484848" stroke-width="0.52"/><polygon points="60.75,243 61.75,246 59.75,246" fill="#222"/>
<rect x="25.8" y="251.8" width="68.2" height="21.6" fill="#d9f0d3" stroke="#4a5a68" stroke-width="0.65" rx="10.8"/><text x="60.4" y="265.94" font-size="8.9" text-anchor="middle">Softmax</text>
<line x1="60.75" y1="284.5" x2="60.75" y2="275.3" stroke="#484848" stroke-width="0.52"/><polygon points="60.75,274.3 61.75,277.3 59.75,277.3" fill="#222"/>
<line x1="60.75" y1="295.5" x2="60.75" y2="303.8" stroke="#484848" stroke-width="0.52"/>
<circle cx="60.6" cy="289.8" r="5.5" fill="#fff" stroke="#456" stroke-width="0.6"/>
<line x1="55.1" y1="289.5" x2="66.1" y2="289.5" stroke="#456" stroke-width="0.5"/><line x1="60.75" y1="284.3" x2="60.75" y2="295.3" stroke="#456" stroke-width="0.5"/>
<rect x="26.2" y="303.8" width="67.8" height="21.2" fill="#fdf0c2" stroke="#4a5a68" stroke-width="0.65" rx="10.6"/><text x="60.6" y="317.74" font-size="8.9" text-anchor="middle">Scale</text>
<line x1="60.75" y1="338" x2="60.75" y2="327" stroke="#484848" stroke-width="0.52"/><polygon points="60.75,326 61.75,329 59.75,329" fill="#222"/>
<rect x="26.2" y="338" width="67.8" height="22" fill="#ddeef9" stroke="#4a5a68" stroke-width="0.65" rx="11"/><text x="60.6" y="352.34" font-size="8.9" text-anchor="middle">MatMul</text>
<line x1="37.5" y1="374.5" x2="37.5" y2="361.8" stroke="#484848" stroke-width="0.52"/><polygon points="37.5,360.8 38.5,363.8 36.5,363.8" fill="#222"/>
<line x1="82.75" y1="374.5" x2="82.75" y2="361.8" stroke="#484848" stroke-width="0.52"/><polygon points="82.75,360.8 83.75,363.8 81.75,363.8" fill="#222"/>
<line x1="130.5" y1="374.5" x2="130.5" y2="245" stroke="#484848" stroke-width="0.52"/><polygon points="130.5,244 131.5,247 129.5,247" fill="#222"/>
<rect x="19.2" y="374.5" width="38.8" height="21.3" fill="#e6f2fb" stroke="#8496a4" stroke-width="0.4" rx="10.65"/><rect x="17.7" y="376" width="38.8" height="21.3" fill="#e6f2fb" stroke="#8496a4" stroke-width="0.4" rx="10.65"/><rect x="16.2" y="377.5" width="38.8" height="21.3" fill="#ddeef9" stroke="#4a5a68" stroke-width="0.65" rx="10.65"/><text x="36.1" y="391.49" font-size="8.9" text-anchor="middle">Linear</text>
<rect x="65.5" y="374.5" width="38.8" height="21.3" fill="#e6f2fb" stroke="#8496a4" stroke-width="0.4" rx="10.65"/><rect x="64" y="376" width="38.8" height="21.3" fill="#e6f2fb" stroke="#8496a4" stroke-width="0.4" rx="10.65"/><rect x="62.5" y="377.5" width="38.8" height="21.3" fill="#ddeef9" stroke="#4a5a68" stroke-width="0.65" rx="10.65"/><text x="82.4" y="391.49" font-size="8.9" text-anchor="middle">Linear</text>
<rect x="112.3" y="374.5" width="38.9" height="21.3" fill="#e6f2fb" stroke="#8496a4" stroke-width="0.4" rx="10.65"/><rect x="110.8" y="376" width="38.9" height="21.3" fill="#e6f2fb" stroke="#8496a4" stroke-width="0.4" rx="10.65"/><rect x="109.3" y="377.5" width="38.9" height="21.3" fill="#ddeef9" stroke="#4a5a68" stroke-width="0.65" rx="10.65"/><text x="129.25" y="391.49" font-size="8.9" text-anchor="middle">Linear</text>
<line x1="37.5" y1="414" x2="37.5" y2="401.5" stroke="#484848" stroke-width="0.52"/><polygon points="37.5,400.5 38.5,403.5 36.5,403.5" fill="#222"/>
<text x="40.1" y="414" font-size="8.2">Q</text>
<line x1="82.75" y1="414" x2="82.75" y2="401.5" stroke="#484848" stroke-width="0.52"/><polygon points="82.75,400.5 83.75,403.5 81.75,403.5" fill="#222"/>
<text x="85.35" y="414" font-size="8.2">K</text>
<line x1="130.5" y1="414" x2="130.5" y2="401.5" stroke="#484848" stroke-width="0.52"/><polygon points="130.5,400.5 131.5,403.5 129.5,403.5" fill="#222"/>
<text x="133.1" y="414" font-size="8.2">V</text>
<path d="M183.5,415.5 H168.5 Q162.5,415.5 162.5,409.5 V296 Q162.5,289.5 156,289.5 H67.5" fill="none" stroke="#484848" stroke-width="0.52"/>
<polygon points="66.5,289.5 69.5,288.5 69.5,290.5" fill="#222"/>
<line x1="154.5" y1="299.5" x2="208.2" y2="299.5" stroke="#555" stroke-width="0.45" stroke-dasharray="1.5 1.3"/>
<polygon points="210,299.5 207,300.5 207,298.5" fill="#222"/>
<rect x="19.5" y="431.2" width="12.5" height="6.4" fill="#fff" stroke="#505050" stroke-width="0.55" rx="1.2"/>
<rect x="19.5" y="442.3" width="12.5" height="6.4" fill="#d9d9d9" stroke="#505050" stroke-width="0.55" rx="1.2"/>
<text x="37" y="437.1" font-size="7.4">Pretrain module</text>
<text x="37" y="448.2" font-size="7.4">Finetune module</text>
<circle cx="105.3" cy="434.5" r="3.2" fill="#b4b4b4" stroke="#666" stroke-width="0.5"/>
<circle cx="105.3" cy="445.7" r="3.2" fill="#e8702a" stroke="#8a4a20" stroke-width="0.5"/>
<text x="113" y="437.1" font-size="7.4">Real node</text>
<text x="113" y="448.2" font-size="7.4">Virtual node</text>
<text x="177.6" y="180.7" font-size="8.8">N</text><text x="184" y="181.2" font-size="8.4" style="fill:#333">×</text>
<path d="M252,351.5 V229.5" fill="none" stroke="#484848" stroke-width="0.52"/>
<path d="M252,206.5 V202" fill="none" stroke="#484848" stroke-width="0.52"/>
<path d="M252,180.5 V166 Q252,159.5 258.5,159.5 H412 Q418.8,159.5 418.8,166.3 V176.5" fill="none" stroke="#484848" stroke-width="0.52"/>
<polygon points="418.8,177.5 417.8,174.5 419.8,174.5" fill="#222"/>
<path d="M374,159.5 Q380.8,159.5 380.8,166.3 V176" fill="none" stroke="#484848" stroke-width="0.52"/>
<polygon points="380.8,177 379.8,174 381.8,174" fill="#222"/>
<path d="M314,159.5 Q321,159.5 321,166.5 V275.5 Q321,282 327.5,282 H428.5 Q435,282 435,288.5 V299" fill="none" stroke="#484848" stroke-width="0.52"/>
<polygon points="435,300 434,297 436,297" fill="#222"/>
<path d="M360.3,282 Q366.8,282 366.8,288.5 V298.5" fill="none" stroke="#484848" stroke-width="0.52"/>
<polygon points="366.8,299.5 365.8,296.5 367.8,296.5" fill="#222"/>
<polygon points="252,229 253,232 251,232" fill="#222"/>
<rect x="210" y="180.5" width="86.8" height="21.5" fill="#d9f0d3" stroke="#4a5a68" stroke-width="0.65" rx="10.75"/><text x="253.9" y="194.59" font-size="8.9" text-anchor="middle">Add &amp; Norm</text>
<rect x="210" y="206.5" width="86.8" height="21.7" fill="#ddeef9" stroke="#4a5a68" stroke-width="0.65" rx="10.85"/><text x="253.9" y="220.69" font-size="8.9" text-anchor="middle">Linear</text>
<path d="M252,243.5 H191.5 Q185.8,243.5 185.8,237.8 V197.2 Q185.8,191.5 191.5,191.5 H209" fill="none" stroke="#484848" stroke-width="0.52"/>
<polygon points="210,191.5 207,192.5 207,190.5" fill="#222"/>
<rect x="210" y="256.8" width="86.8" height="21.2" fill="#d9f0d3" stroke="#4a5a68" stroke-width="0.65" rx="10.6"/><text x="253.9" y="270.74" font-size="8.9" text-anchor="middle">Add &amp; Norm</text>
<rect x="210.5" y="284.5" width="86.3" height="31.3" fill="#fdf0c2" stroke="#505050" stroke-width="0.6" rx="3"/>
<text x="253.7" y="299.5" font-size="8.8" text-anchor="middle">Multi-head</text>
<text x="253.7" y="307.3" font-size="8.8" text-anchor="middle">attention</text>
<path d="M252,332.5 H192.5 Q186.5,332.5 186.5,326.5 V273 Q186.5,267 192.5,267 H210" fill="none" stroke="#484848" stroke-width="0.52"/>
<polygon points="252,316.2 253,319.2 251,319.2" fill="#222"/>
<path d="M223.5,318.2 Q226,322.6 232,322.6 H272 Q278,322.6 281.3,318.2" fill="none" stroke="#484848" stroke-width="0.52"/>
<polygon points="222.8,317 224.87,318.58 223.13,319.58" fill="#222"/>
<polygon points="282,317 281.67,319.58 279.93,318.58" fill="#222"/>
<rect x="209.3" y="351.5" width="86.5" height="21.3" fill="#fce8e8" stroke="#4a5a68" stroke-width="0.65" rx="10.65"/><text x="253.05" y="365.49" font-size="8.9" text-anchor="middle">Embedding layer</text>
<line x1="252" y1="384.5" x2="252" y2="374.6" stroke="#484848" stroke-width="0.52"/><polygon points="252,373.6 253,376.6 251,376.6" fill="#222"/>
<text x="212.2" y="382" font-size="7.4" text-anchor="middle">Distance encodings</text>
<text x="211.2" y="421" font-size="7.4" text-anchor="middle">Path encodings</text>
<text x="272.6" y="390.8" font-size="7.4" text-anchor="middle">Node features</text>
<rect x="195.1" y="385.7" width="5.9" height="5.7" fill="#a5c6eb"/>
<rect x="195.1" y="425.9" width="5.9" height="5.6" fill="#d3ebcd"/>
<rect x="202.3" y="385.7" width="5.9" height="5.7" fill="#a5c6eb"/>
<rect x="202.3" y="425.9" width="5.9" height="5.6" fill="#d3ebcd"/>
<rect x="209.5" y="385.7" width="5.9" height="5.7" fill="#a5c6eb"/>
<rect x="209.5" y="425.9" width="5.9" height="5.6" fill="#d3ebcd"/>
<rect x="216.7" y="385.7" width="5.9" height="5.7" fill="#a5c6eb"/>
<rect x="216.7" y="425.9" width="5.9" height="5.6" fill="#d3ebcd"/>
<rect x="195.1" y="392.7" width="5.9" height="5.7" fill="#a5c6eb"/>
<rect x="195.1" y="432.8" width="5.9" height="5.6" fill="#d3ebcd"/>
<rect x="202.3" y="392.7" width="5.9" height="5.7" fill="#a5c6eb"/>
<rect x="202.3" y="432.8" width="5.9" height="5.6" fill="#d3ebcd"/>
<rect x="209.5" y="392.7" width="5.9" height="5.7" fill="#a5c6eb"/>
<rect x="209.5" y="432.8" width="5.9" height="5.6" fill="#d3ebcd"/>
<rect x="216.7" y="392.7" width="5.9" height="5.7" fill="#a5c6eb"/>
<rect x="216.7" y="432.8" width="5.9" height="5.6" fill="#d3ebcd"/>
<rect x="195.1" y="399.7" width="5.9" height="5.7" fill="#a5c6eb"/>
<rect x="195.1" y="439.7" width="5.9" height="5.6" fill="#d3ebcd"/>
<rect x="202.3" y="399.7" width="5.9" height="5.7" fill="#a5c6eb"/>
<rect x="202.3" y="439.7" width="5.9" height="5.6" fill="#d3ebcd"/>
<rect x="209.5" y="399.7" width="5.9" height="5.7" fill="#a5c6eb"/>
<rect x="209.5" y="439.7" width="5.9" height="5.6" fill="#d3ebcd"/>
<rect x="216.7" y="399.7" width="5.9" height="5.7" fill="#a5c6eb"/>
<rect x="216.7" y="439.7" width="5.9" height="5.6" fill="#d3ebcd"/>
<rect x="195.1" y="406.7" width="5.9" height="5.7" fill="#a5c6eb"/>
<rect x="195.1" y="446.6" width="5.9" height="5.6" fill="#d3ebcd"/>
<rect x="202.3" y="406.7" width="5.9" height="5.7" fill="#a5c6eb"/>
<rect x="202.3" y="446.6" width="5.9" height="5.6" fill="#d3ebcd"/>
<rect x="209.5" y="406.7" width="5.9" height="5.7" fill="#a5c6eb"/>
<rect x="209.5" y="446.6" width="5.9" height="5.6" fill="#d3ebcd"/>
<rect x="216.7" y="406.7" width="5.9" height="5.7" fill="#a5c6eb"/>
<rect x="216.7" y="446.6" width="5.9" height="5.6" fill="#d3ebcd"/>
<rect x="243.7" y="393.9" width="5.9" height="5.8" fill="#f4c0c8"/>
<rect x="250.95" y="393.9" width="5.9" height="5.8" fill="#f4c0c8"/>
<rect x="258.2" y="393.9" width="5.9" height="5.8" fill="#f4c0c8"/>
<rect x="265.45" y="393.9" width="5.9" height="5.8" fill="#f4c0c8"/>
<rect x="272.7" y="393.9" width="5.9" height="5.8" fill="#f4c0c8"/>
<rect x="279.95" y="393.9" width="5.9" height="5.8" fill="#f4c0c8"/>
<rect x="287.2" y="393.9" width="5.9" height="5.8" fill="#f4c0c8"/>
<rect x="294.45" y="393.9" width="5.9" height="5.8" fill="#f4c0c8"/>
<rect x="243.7" y="400.95" width="5.9" height="5.8" fill="#a9c9ec"/>
<rect x="250.95" y="400.95" width="5.9" height="5.8" fill="#a9c9ec"/>
<rect x="258.2" y="400.95" width="5.9" height="5.8" fill="#a9c9ec"/>
<rect x="265.45" y="400.95" width="5.9" height="5.8" fill="#a9c9ec"/>
<rect x="272.7" y="400.95" width="5.9" height="5.8" fill="#a9c9ec"/>
<rect x="279.95" y="400.95" width="5.9" height="5.8" fill="#a9c9ec"/>
<rect x="287.2" y="400.95" width="5.9" height="5.8" fill="#a9c9ec"/>
<rect x="294.45" y="400.95" width="5.9" height="5.8" fill="#a9c9ec"/>
<rect x="243.7" y="408" width="5.9" height="5.8" fill="#a9c9ec"/>
<rect x="250.95" y="408" width="5.9" height="5.8" fill="#a9c9ec"/>
<rect x="258.2" y="408" width="5.9" height="5.8" fill="#a9c9ec"/>
<rect x="265.45" y="408" width="5.9" height="5.8" fill="#a9c9ec"/>
<rect x="272.7" y="408" width="5.9" height="5.8" fill="#a9c9ec"/>
<rect x="279.95" y="408" width="5.9" height="5.8" fill="#a9c9ec"/>
<rect x="287.2" y="408" width="5.9" height="5.8" fill="#a9c9ec"/>
<rect x="294.45" y="408" width="5.9" height="5.8" fill="#a9c9ec"/>
<rect x="243.7" y="415.05" width="5.9" height="5.8" fill="#fccf4a"/>
<rect x="250.95" y="415.05" width="5.9" height="5.8" fill="#fccf4a"/>
<rect x="258.2" y="415.05" width="5.9" height="5.8" fill="#fccf4a"/>
<rect x="265.45" y="415.05" width="5.9" height="5.8" fill="#fccf4a"/>
<rect x="272.7" y="415.05" width="5.9" height="5.8" fill="#fccf4a"/>
<rect x="279.95" y="415.05" width="5.9" height="5.8" fill="#fccf4a"/>
<rect x="287.2" y="415.05" width="5.9" height="5.8" fill="#fccf4a"/>
<rect x="294.45" y="415.05" width="5.9" height="5.8" fill="#fccf4a"/>
<rect x="243.7" y="422.1" width="5.9" height="5.8" fill="#fccf4a"/>
<rect x="250.95" y="422.1" width="5.9" height="5.8" fill="#fccf4a"/>
<rect x="258.2" y="422.1" width="5.9" height="5.8" fill="#fccf4a"/>
<rect x="265.45" y="422.1" width="5.9" height="5.8" fill="#fccf4a"/>
<rect x="272.7" y="422.1" width="5.9" height="5.8" fill="#fccf4a"/>
<rect x="279.95" y="422.1" width="5.9" height="5.8" fill="#fccf4a"/>
<rect x="287.2" y="422.1" width="5.9" height="5.8" fill="#fccf4a"/>
<rect x="294.45" y="422.1" width="5.9" height="5.8" fill="#fccf4a"/>
<rect x="243.7" y="429.15" width="5.9" height="5.8" fill="#e8702a"/>
<rect x="250.95" y="429.15" width="5.9" height="5.8" fill="#e8702a"/>
<rect x="258.2" y="429.15" width="5.9" height="5.8" fill="#e8702a"/>
<rect x="265.45" y="429.15" width="5.9" height="5.8" fill="#e8702a"/>
<rect x="272.7" y="429.15" width="5.9" height="5.8" fill="#e8702a"/>
<rect x="279.95" y="429.15" width="5.9" height="5.8" fill="#e8702a"/>
<rect x="287.2" y="429.15" width="5.9" height="5.8" fill="#e8702a"/>
<rect x="294.45" y="429.15" width="5.9" height="5.8" fill="#e8702a"/>
<defs><radialGradient id="g1" cx="48%" cy="45%" r="52%"><stop offset="0" stop-color="#c6c6ff"/><stop offset="0.6" stop-color="#9c9cf6"/><stop offset="0.9" stop-color="#8686ee"/><stop offset="1" stop-color="#8686ee" stop-opacity="0.15"/></radialGradient><radialGradient id="g2" cx="48%" cy="45%" r="52%"><stop offset="0" stop-color="#d4ebfd"/><stop offset="0.6" stop-color="#acd6f9"/><stop offset="0.9" stop-color="#98c9f5"/><stop offset="1" stop-color="#98c9f5" stop-opacity="0.15"/></radialGradient></defs>
<circle cx="257.5" cy="451.2" r="12.3" fill="url(#g1)"/>
<circle cx="284.5" cy="451.2" r="12.3" fill="url(#g2)"/>
<text x="257.5" y="454.1" font-size="7.2" text-anchor="middle">RDKit</text>
<text x="284.5" y="454.1" font-size="7.2" text-anchor="middle">DGL</text>
<text x="337" y="177" font-size="7.3">Real nodes</text>
<text x="467" y="177" font-size="7.3" text-anchor="end">Virtual nodes</text>
<line x1="401.3" y1="202" x2="401.3" y2="206.5" stroke="#484848" stroke-width="0.52"/>
<rect x="356.8" y="180.5" width="87.2" height="21.5" fill="#ddeef9" stroke="#4a5a68" stroke-width="0.65" rx="10.75"/><text x="400.9" y="194.59" font-size="8.9" text-anchor="middle">Concatenate</text>
<rect x="357.5" y="206.5" width="86.5" height="21.5" fill="#f2cdec" stroke="#4a5a68" stroke-width="0.65" rx="10.75"/><text x="401.25" y="220.59" font-size="8.9" text-anchor="middle">Predictor</text>
<path d="M401.3,228 V239.3 M367,246 Q367.5,239.3 374,239.3 H428 Q434.5,239.3 435,246" fill="none" stroke="#484848" stroke-width="0.52"/>
<polygon points="366.9,247.2 366.33,244.66 368.3,245.01" fill="#222"/>
<polygon points="435.1,247.2 433.7,245.01 435.67,244.66" fill="#222"/>
<text x="368" y="256.2" font-size="7.3" text-anchor="middle">Antibacterial</text>
<text x="368" y="263.8" font-size="7.3" text-anchor="middle">property</text>
<text x="436.3" y="256.2" font-size="7.3" text-anchor="middle">Hemolytic</text>
<text x="436.3" y="263.8" font-size="7.3" text-anchor="middle">property</text>
<rect x="337" y="303.4" width="59" height="23.2" fill="#ddeef9" stroke="#4a5a68" stroke-width="0.65" rx="11.6"/><text x="367" y="318.34" font-size="8.9" text-anchor="middle">Linear</text>
<rect x="404" y="303.4" width="59.3" height="23.2" fill="#ddeef9" stroke="#4a5a68" stroke-width="0.65" rx="11.6"/><text x="434.15" y="318.34" font-size="8.9" text-anchor="middle">Readout</text>
<line x1="435" y1="326.6" x2="435" y2="335.8" stroke="#484848" stroke-width="0.52"/>
<rect x="404" y="335.8" width="59.7" height="23.2" fill="#ddeef9" stroke="#4a5a68" stroke-width="0.65" rx="11.6"/><text x="434.35" y="350.74" font-size="8.9" text-anchor="middle">Linear</text>
<line x1="366.8" y1="326.6" x2="366.8" y2="342.3" stroke="#484848" stroke-width="0.52"/><polygon points="366.8,343.3 365.8,340.3 367.8,340.3" fill="#222"/>
<text x="368.3" y="353.2" font-size="7.3" text-anchor="middle">Node-level task</text>
<line x1="435" y1="359" x2="435" y2="371" stroke="#484848" stroke-width="0.52"/><polygon points="435,372 434,369 436,369" fill="#222"/>
<text x="435.6" y="381.2" font-size="7.3" text-anchor="middle">Graph-level task</text>
<path d="M402.5,410.5 V403.5 Q402.5,397.5 396.5,397.5 H328 Q322,397.5 322,403.5 V426.5 Q322,432.5 316,432.5 H304.5" fill="none" stroke="#4a6075" stroke-width="0.6"/>
<polygon points="303.5,432.5 306.5,431.5 306.5,433.5" fill="#222"/>
<rect x="359.3" y="410.5" width="85.7" height="21.5" fill="#f2cdec" stroke="#4a5a68" stroke-width="0.65" rx="10.75"/><text x="402.65" y="424.59" font-size="8.9" text-anchor="middle">Ratio embedding</text>
<line x1="402" y1="450.5" x2="402" y2="436" stroke="#484848" stroke-width="0.52"/><polygon points="402,435 403,438 401,438" fill="#222"/>
<rect x="392" y="453.8" width="6" height="5.6" fill="#e8702a"/>
<rect x="399.5" y="453.8" width="6" height="5.6" fill="#e8702a"/>
<rect x="407" y="453.8" width="6" height="5.6" fill="#e8702a"/>
<path d="M72.5,464.5 V463 Q72.5,456.5 79,456.5 H235" fill="none" stroke="#484848" stroke-width="0.52"/>
<line x1="235" y1="465" x2="235" y2="449" stroke="#484848" stroke-width="0.52"/>
<polygon points="235,448 236,451 234,451" fill="#222"/>
<text x="16.5" y="478.4" font-size="8.8">II. Unlabeled SANPs dataset</text>
<line x1="57.75" y1="495.4" x2="44.3" y2="488.4" stroke="#8a8a8a" stroke-width="0.5" stroke-dasharray="0.7 1.1"/>
<line x1="57.75" y1="495.4" x2="44.3" y2="502" stroke="#8a8a8a" stroke-width="0.5" stroke-dasharray="0.7 1.1"/>
<line x1="57.75" y1="495.4" x2="72.5" y2="488.4" stroke="#8a8a8a" stroke-width="0.5" stroke-dasharray="0.7 1.1"/>
<line x1="57.75" y1="495.4" x2="72.5" y2="502" stroke="#8a8a8a" stroke-width="0.5" stroke-dasharray="0.7 1.1"/>
<line x1="57.75" y1="495.4" x2="72.5" y2="495.2" stroke="#8a8a8a" stroke-width="0.5" stroke-dasharray="0.7 1.1"/>
<line x1="57.75" y1="495.4" x2="72.5" y2="491.8" stroke="#8a8a8a" stroke-width="0.5" stroke-dasharray="0.7 1.1"/>
<line x1="57.75" y1="495.4" x2="72.5" y2="498.6" stroke="#8a8a8a" stroke-width="0.5" stroke-dasharray="0.7 1.1"/>
<line x1="30.5" y1="515" x2="17.5" y2="502" stroke="#8a8a8a" stroke-width="0.5" stroke-dasharray="0.7 1.1"/>
<line x1="30.5" y1="515" x2="44.3" y2="502" stroke="#8a8a8a" stroke-width="0.5" stroke-dasharray="0.7 1.1"/>
<line x1="85.75" y1="515" x2="72.5" y2="502" stroke="#8a8a8a" stroke-width="0.5" stroke-dasharray="0.7 1.1"/>
<line x1="85.75" y1="515" x2="99.3" y2="502" stroke="#8a8a8a" stroke-width="0.5" stroke-dasharray="0.7 1.1"/>
<line x1="117.5" y1="515" x2="103.3" y2="502" stroke="#8a8a8a" stroke-width="0.5" stroke-dasharray="0.7 1.1"/>
<line x1="117.5" y1="515" x2="130" y2="502" stroke="#8a8a8a" stroke-width="0.5" stroke-dasharray="0.7 1.1"/>
<rect x="17.5" y="488.4" width="26.4" height="13.6" fill="#fdeaea" stroke="#f2aeb0" stroke-width="0.6" rx="0.8"/>
<text x="30.9" y="497.6" font-size="6.6" text-anchor="middle">A+B</text>
<rect x="72.5" y="488.4" width="26.4" height="13.6" fill="#fdebb3" stroke="#f5c242" stroke-width="1.1" rx="0.8"/>
<text x="85.9" y="497.6" font-size="6.6" text-anchor="middle">A+C</text>
<rect x="103.3" y="488.4" width="26.4" height="13.6" fill="#ddeef9" stroke="#9fd0f0" stroke-width="0.6" rx="0.8"/>
<text x="116.7" y="497.6" font-size="6.6" text-anchor="middle">A+D</text>
<circle cx="57.75" cy="495.4" r="2.9" fill="#e8702a" stroke="#8a4a20" stroke-width="0.45"/>
<circle cx="30.5" cy="515" r="2.9" fill="#e8702a" stroke="#8a4a20" stroke-width="0.45"/>
<circle cx="85.75" cy="515" r="2.9" fill="#e8702a" stroke="#8a4a20" stroke-width="0.45"/>
<circle cx="117.5" cy="515" r="2.9" fill="#e8702a" stroke="#8a4a20" stroke-width="0.45"/>
<line x1="9.9" y1="524.4" x2="136.3" y2="524.4" stroke="#666" stroke-width="0.5" stroke-dasharray="1.2 1"/>
<text x="16.5" y="536.3" font-size="8.8">I. Unlabeled polymer dataset</text>
<line x1="35" y1="551.5" x2="47.25" y2="559" stroke="#555" stroke-width="0.6"/><line x1="47.25" y1="559" x2="60.5" y2="552" stroke="#555" stroke-width="0.6"/><line x1="60.5" y1="552" x2="73" y2="559" stroke="#555" stroke-width="0.6"/><line x1="73" y1="559" x2="86.5" y2="551.5" stroke="#555" stroke-width="0.6"/><line x1="47.25" y1="559" x2="47.25" y2="573.3" stroke="#555" stroke-width="0.6"/>
<path d="M20.5,551.4 q0.96,-2.2 1.92,0 q0.96,2.2 1.92,0 q0.96,-2.2 1.92,0 q0.96,2.2 1.92,0 q0.96,-2.2 1.92,0 q0.96,2.2 1.92,0" fill="none" stroke="#555" stroke-width="0.55"/>
<path d="M89.5,551.4 q0.94,-2.2 1.88,0 q0.94,2.2 1.88,0 q0.94,-2.2 1.88,0 q0.94,2.2 1.88,0 q0.94,-2.2 1.88,0 q0.94,2.2 1.88,0" fill="none" stroke="#555" stroke-width="0.55"/>
<circle cx="35" cy="551.5" r="3.2" fill="#b4b4b4" stroke="#5a5a5a" stroke-width="0.6"/>
<circle cx="47.25" cy="559" r="3.2" fill="#b4b4b4" stroke="#5a5a5a" stroke-width="0.6"/>
<circle cx="60.5" cy="552" r="3.2" fill="#b4b4b4" stroke="#5a5a5a" stroke-width="0.6"/>
<circle cx="73" cy="559" r="3.2" fill="#b4b4b4" stroke="#5a5a5a" stroke-width="0.6"/>
<circle cx="86.5" cy="551.5" r="3.2" fill="#b4b4b4" stroke="#5a5a5a" stroke-width="0.6"/>
<circle cx="47.25" cy="573.3" r="3.2" fill="#b4b4b4" stroke="#5a5a5a" stroke-width="0.6"/>
<line x1="94" y1="570.5" x2="109.5" y2="570.5" stroke="#555" stroke-width="0.6"/>
<path d="M79.5,570.5 q0.96,-2.2 1.92,0 q0.96,2.2 1.92,0 q0.96,-2.2 1.92,0 q0.96,2.2 1.92,0 q0.96,-2.2 1.92,0 q0.96,2.2 1.92,0" fill="none" stroke="#555" stroke-width="0.55"/>
<path d="M112.5,570.5 q0.97,-2.2 1.94,0 q0.97,2.2 1.94,0 q0.97,-2.2 1.94,0 q0.97,2.2 1.94,0 q0.97,-2.2 1.94,0 q0.97,2.2 1.94,0 q0.97,-2.2 1.94,0 q0.97,2.2 1.94,0" fill="none" stroke="#555" stroke-width="0.55"/>
<circle cx="94" cy="570.5" r="3.2" fill="#b4b4b4" stroke="#5a5a5a" stroke-width="0.6"/>
<circle cx="109.5" cy="570.5" r="3.2" fill="#b4b4b4" stroke="#5a5a5a" stroke-width="0.6"/>
<text x="150.6" y="478.6" font-size="8.8">III. Labeled SANPs dataset</text>
<line x1="263.25" y1="514.25" x2="239.3" y2="490.5" stroke="#8a8a8a" stroke-width="0.5" stroke-dasharray="0.7 1.1"/>
<line x1="263.25" y1="514.25" x2="239.3" y2="538.75" stroke="#8a8a8a" stroke-width="0.5" stroke-dasharray="0.7 1.1"/>
<line x1="263.25" y1="514.25" x2="288.25" y2="490.5" stroke="#8a8a8a" stroke-width="0.5" stroke-dasharray="0.7 1.1"/>
<line x1="263.25" y1="514.25" x2="288.25" y2="538.75" stroke="#8a8a8a" stroke-width="0.5" stroke-dasharray="0.7 1.1"/>
<line x1="263.25" y1="514.25" x2="288.25" y2="510" stroke="#8a8a8a" stroke-width="0.5" stroke-dasharray="0.7 1.1"/>
<line x1="263.25" y1="514.25" x2="288.25" y2="518.8" stroke="#8a8a8a" stroke-width="0.5" stroke-dasharray="0.7 1.1"/>
<line x1="198.75" y1="563.9" x2="152.5" y2="538.75" stroke="#8a8a8a" stroke-width="0.5" stroke-dasharray="0.7 1.1"/>
<line x1="198.75" y1="563.9" x2="239.3" y2="538.75" stroke="#8a8a8a" stroke-width="0.5" stroke-dasharray="0.7 1.1"/>
<line x1="333.5" y1="564.2" x2="288.25" y2="538.75" stroke="#8a8a8a" stroke-width="0.5" stroke-dasharray="0.7 1.1"/>
<line x1="333.5" y1="564.2" x2="374.5" y2="538.75" stroke="#8a8a8a" stroke-width="0.5" stroke-dasharray="0.7 1.1"/>
<line x1="428.2" y1="564.2" x2="382.5" y2="538.75" stroke="#8a8a8a" stroke-width="0.5" stroke-dasharray="0.7 1.1"/>
<line x1="428.2" y1="564.2" x2="468.5" y2="538.75" stroke="#8a8a8a" stroke-width="0.5" stroke-dasharray="0.7 1.1"/>
<line x1="374.5" y1="491.5" x2="382.5" y2="490.5" stroke="#8a8a8a" stroke-width="0.5" stroke-dasharray="0.7 1.1"/>
<line x1="374.5" y1="536.5" x2="382.5" y2="538.5" stroke="#8a8a8a" stroke-width="0.5" stroke-dasharray="0.7 1.1"/>
<rect x="152.5" y="490.5" width="86.8" height="48.3" fill="#fde8e8" stroke="#f4b4b6" stroke-width="0.6" rx="2.5"/>
<rect x="288.3" y="490.5" width="86.2" height="48.3" fill="#fdeeb8" stroke="#f5c242" stroke-width="1.1" rx="2.5"/>
<rect x="382.5" y="490.3" width="86" height="48.4" fill="#ddeef9" stroke="#9cd0f4" stroke-width="0.7" rx="2.5"/>
<line x1="170.5" y1="500.5" x2="184" y2="508.3" stroke="#555" stroke-width="0.6"/><line x1="184" y1="508.3" x2="196.5" y2="501" stroke="#555" stroke-width="0.6"/><line x1="196.5" y1="501" x2="209.75" y2="508.3" stroke="#555" stroke-width="0.6"/><line x1="209.75" y1="508.3" x2="222" y2="500.5" stroke="#555" stroke-width="0.6"/><line x1="184" y1="508.3" x2="180.25" y2="522.5" stroke="#555" stroke-width="0.6"/><line x1="180.25" y1="522.5" x2="189.75" y2="532.5" stroke="#555" stroke-width="0.6"/>
<path d="M155.5,500.5 q1,-2.2 2,0 q1,2.2 2,0 q1,-2.2 2,0 q1,2.2 2,0 q1,-2.2 2,0 q1,2.2 2,0" fill="none" stroke="#555" stroke-width="0.55"/>
<path d="M225,500.5 q0.94,-2.2 1.88,0 q0.94,2.2 1.88,0 q0.94,-2.2 1.88,0 q0.94,2.2 1.88,0 q0.94,-2.2 1.88,0 q0.94,2.2 1.88,0" fill="none" stroke="#555" stroke-width="0.55"/>
<circle cx="170.5" cy="500.5" r="3.2" fill="#b4b4b4" stroke="#5a5a5a" stroke-width="0.6"/>
<circle cx="184" cy="508.3" r="3.2" fill="#b4b4b4" stroke="#5a5a5a" stroke-width="0.6"/>
<circle cx="196.5" cy="501" r="3.2" fill="#b4b4b4" stroke="#5a5a5a" stroke-width="0.6"/>
<circle cx="209.75" cy="508.3" r="3.2" fill="#b4b4b4" stroke="#5a5a5a" stroke-width="0.6"/>
<circle cx="222" cy="500.5" r="3.2" fill="#b4b4b4" stroke="#5a5a5a" stroke-width="0.6"/>
<circle cx="180.25" cy="522.5" r="3.2" fill="#b4b4b4" stroke="#5a5a5a" stroke-width="0.6"/>
<circle cx="189.75" cy="532.5" r="3.2" fill="#b4b4b4" stroke="#5a5a5a" stroke-width="0.6"/>
<line x1="305.75" y1="510.75" x2="319.5" y2="517.3" stroke="#555" stroke-width="0.6"/><line x1="319.5" y1="517.3" x2="332.5" y2="510.75" stroke="#555" stroke-width="0.6"/><line x1="332.5" y1="510.75" x2="345.75" y2="517.3" stroke="#555" stroke-width="0.6"/><line x1="345.75" y1="517.3" x2="356.25" y2="510.75" stroke="#555" stroke-width="0.6"/><line x1="332.5" y1="510.75" x2="332.5" y2="497" stroke="#555" stroke-width="0.6"/><line x1="319.5" y1="517.3" x2="319.5" y2="532.5" stroke="#555" stroke-width="0.6"/>
<path d="M291.3,510.75 q0.96,-2.2 1.92,0 q0.96,2.2 1.92,0 q0.96,-2.2 1.92,0 q0.96,2.2 1.92,0 q0.96,-2.2 1.92,0 q0.96,2.2 1.92,0" fill="none" stroke="#555" stroke-width="0.55"/>
<path d="M359.3,510.75 q1,-2.2 2,0 q1,2.2 2,0 q1,-2.2 2,0 q1,2.2 2,0 q1,-2.2 2,0 q1,2.2 2,0" fill="none" stroke="#555" stroke-width="0.55"/>
<circle cx="305.75" cy="510.75" r="3.2" fill="#b4b4b4" stroke="#5a5a5a" stroke-width="0.6"/>
<circle cx="319.5" cy="517.3" r="3.2" fill="#b4b4b4" stroke="#5a5a5a" stroke-width="0.6"/>
<circle cx="332.5" cy="510.75" r="3.2" fill="#b4b4b4" stroke="#5a5a5a" stroke-width="0.6"/>
<circle cx="345.75" cy="517.3" r="3.2" fill="#b4b4b4" stroke="#5a5a5a" stroke-width="0.6"/>
<circle cx="356.25" cy="510.75" r="3.2" fill="#b4b4b4" stroke="#5a5a5a" stroke-width="0.6"/>
<circle cx="332.5" cy="497" r="3.2" fill="#b4b4b4" stroke="#5a5a5a" stroke-width="0.6"/>
<circle cx="319.5" cy="532.5" r="3.2" fill="#b4b4b4" stroke="#5a5a5a" stroke-width="0.6"/>
<line x1="399.6" y1="500.8" x2="413.4" y2="507.4" stroke="#555" stroke-width="0.6"/><line x1="413.4" y1="507.4" x2="426.4" y2="501" stroke="#555" stroke-width="0.6"/><line x1="426.4" y1="501" x2="439.4" y2="507.4" stroke="#555" stroke-width="0.6"/><line x1="439.4" y1="507.4" x2="450.2" y2="501" stroke="#555" stroke-width="0.6"/><line x1="413.4" y1="507.4" x2="413.4" y2="522.7" stroke="#555" stroke-width="0.6"/><line x1="413.4" y1="522.7" x2="426.4" y2="528.6" stroke="#555" stroke-width="0.6"/><line x1="426.4" y1="528.6" x2="439.4" y2="522.7" stroke="#555" stroke-width="0.6"/><line x1="439.4" y1="522.7" x2="439.4" y2="507.4" stroke="#555" stroke-width="0.6"/>
<path d="M385.5,500.8 q0.93,-2.2 1.85,0 q0.93,2.2 1.85,0 q0.93,-2.2 1.85,0 q0.93,2.2 1.85,0 q0.93,-2.2 1.85,0 q0.93,2.2 1.85,0" fill="none" stroke="#555" stroke-width="0.55"/>
<path d="M453.2,501 q0.97,-2.2 1.93,0 q0.97,2.2 1.93,0 q0.97,-2.2 1.93,0 q0.97,2.2 1.93,0 q0.97,-2.2 1.93,0 q0.97,2.2 1.93,0" fill="none" stroke="#555" stroke-width="0.55"/>
<circle cx="399.6" cy="500.8" r="3.2" fill="#b4b4b4" stroke="#5a5a5a" stroke-width="0.6"/>
<circle cx="413.4" cy="507.4" r="3.2" fill="#b4b4b4" stroke="#5a5a5a" stroke-width="0.6"/>
<circle cx="426.4" cy="501" r="3.2" fill="#b4b4b4" stroke="#5a5a5a" stroke-width="0.6"/>
<circle cx="439.4" cy="507.4" r="3.2" fill="#b4b4b4" stroke="#5a5a5a" stroke-width="0.6"/>
<circle cx="450.2" cy="501" r="3.2" fill="#b4b4b4" stroke="#5a5a5a" stroke-width="0.6"/>
<circle cx="413.4" cy="522.7" r="3.2" fill="#b4b4b4" stroke="#5a5a5a" stroke-width="0.6"/>
<circle cx="426.4" cy="528.6" r="3.2" fill="#b4b4b4" stroke="#5a5a5a" stroke-width="0.6"/>
<circle cx="439.4" cy="522.7" r="3.2" fill="#b4b4b4" stroke="#5a5a5a" stroke-width="0.6"/>
<circle cx="263.25" cy="514.25" r="5.7" fill="#e8702a" stroke="#5a3a20" stroke-width="0.6"/><text x="260.65" y="515.85" font-size="6.6" style="fill:#222">v<tspan font-size="4.4" dy="1.6">g</tspan></text>
<circle cx="262.6" cy="524.3" r="0.45" fill="#333"/>
<circle cx="262.6" cy="526.8" r="0.45" fill="#333"/>
<circle cx="262.6" cy="529.3" r="0.45" fill="#333"/>
<rect x="253" y="533.3" width="5.8" height="5.7" fill="#a9c9ec"/>
<rect x="259.85" y="533.3" width="5.8" height="5.7" fill="#4a90d9"/>
<rect x="266.7" y="533.3" width="5.8" height="5.7" fill="#1f5fa8"/>
<text x="263.3" y="546.3" font-size="7.3" text-anchor="middle">Learnable</text>
<text x="263.3" y="554.2" font-size="7.3" text-anchor="middle">embeddings</text>
<circle cx="198.75" cy="563.9" r="5.7" fill="#e8702a" stroke="#5a3a20" stroke-width="0.6"/><text x="196.15" y="565.5" font-size="6.6" style="fill:#222">v<tspan font-size="4.4" dy="1.6">h</tspan></text>
<circle cx="333.5" cy="564.2" r="5.7" fill="#e8702a" stroke="#5a3a20" stroke-width="0.6"/><text x="330.9" y="565.8" font-size="6.6" style="fill:#222">v<tspan font-size="4.4" dy="1.6">h</tspan></text>
<circle cx="428.2" cy="564.2" r="5.7" fill="#e8702a" stroke="#5a3a20" stroke-width="0.6"/><text x="425.6" y="565.8" font-size="6.6" style="fill:#222">v<tspan font-size="4.4" dy="1.6">h</tspan></text>
<circle cx="210.3" cy="564.6" r="0.55" fill="#333"/><circle cx="212.9" cy="564.6" r="0.55" fill="#333"/><circle cx="215.5" cy="564.6" r="0.55" fill="#333"/>
<rect x="223.2" y="560.8" width="6.9" height="7.2" fill="#e8702a"/>
<text x="233.7" y="566.6" font-size="7.3">Ratio 1</text>
<text x="275.6" y="567" font-size="7.3">Ratio 2</text>
<rect x="302.6" y="560.8" width="7.2" height="7.3" fill="#e8702a"/>
<circle cx="316" cy="564.6" r="0.55" fill="#333"/><circle cx="318.6" cy="564.6" r="0.55" fill="#333"/><circle cx="321.2" cy="564.6" r="0.55" fill="#333"/>
<text x="370.5" y="567" font-size="7.3">Ratio 3</text>
<rect x="397.6" y="560.8" width="7.2" height="7.3" fill="#e8702a"/>
<circle cx="411.6" cy="564.6" r="0.55" fill="#333"/><circle cx="414.2" cy="564.6" r="0.55" fill="#333"/><circle cx="416.8" cy="564.6" r="0.55" fill="#333"/>
<text x="484.2" y="162.5" font-size="13" style="fill:#000" font-weight="bold" stroke="#000" stroke-width="0.35">e</text>
<text x="593.5" y="170.1" font-size="8.8" text-anchor="middle">Pretrained representations</text>
<path d="M510.5,187 V352.2 H677" fill="none" stroke="#9a9a9a" stroke-width="1"/>
<text x="503.2" y="270" font-size="8.8" text-anchor="middle" transform="rotate(-90 503.2 270)">t-SNE 2</text>
<text x="593.5" y="365.3" font-size="8.8" text-anchor="middle">t-SNE 1</text>
<circle cx="609.13" cy="195.84" r="2.7" fill="#f2c8f0" stroke="#fff" stroke-width="0.5"/>
<circle cx="612.71" cy="194.82" r="2.7" fill="#f2c8f0" stroke="#fff" stroke-width="0.5"/>
<circle cx="618.58" cy="198.4" r="2.7" fill="#f2c8f0" stroke="#fff" stroke-width="0.5"/>
<circle cx="612.2" cy="200.44" r="2.7" fill="#f2c8f0" stroke="#fff" stroke-width="0.5"/>
<circle cx="615.26" cy="202.99" r="2.7" fill="#f2c8f0" stroke="#fff" stroke-width="0.5"/>
<circle cx="619.35" cy="200.44" r="2.7" fill="#f2c8f0" stroke="#fff" stroke-width="0.5"/>
<circle cx="607.6" cy="211.17" r="2.7" fill="#f2c8f0" stroke="#fff" stroke-width="0.5"/>
<circle cx="616.8" cy="212.45" r="2.7" fill="#f2c8f0" stroke="#fff" stroke-width="0.5"/>
<circle cx="612.2" cy="218.32" r="2.7" fill="#f2c8f0" stroke="#fff" stroke-width="0.5"/>
<circle cx="593.55" cy="218.83" r="2.7" fill="#f2c8f0" stroke="#fff" stroke-width="0.5"/>
<circle cx="609.64" cy="227.27" r="2.7" fill="#f2c8f0" stroke="#fff" stroke-width="0.5"/>
<circle cx="610.41" cy="266.36" r="2.7" fill="#f2c8f0" stroke="#fff" stroke-width="0.5"/>
<circle cx="610.41" cy="274.53" r="2.7" fill="#f2c8f0" stroke="#fff" stroke-width="0.5"/>
<circle cx="622.42" cy="275.04" r="2.7" fill="#f2c8f0" stroke="#fff" stroke-width="0.5"/>
<circle cx="627.53" cy="275.55" r="2.7" fill="#f2c8f0" stroke="#fff" stroke-width="0.5"/>
<circle cx="617.31" cy="282.2" r="2.7" fill="#f2c8f0" stroke="#fff" stroke-width="0.5"/>
<circle cx="621.65" cy="284.24" r="2.7" fill="#f2c8f0" stroke="#fff" stroke-width="0.5"/>
<circle cx="624.97" cy="285.26" r="2.7" fill="#f2c8f0" stroke="#fff" stroke-width="0.5"/>
<circle cx="615.26" cy="291.14" r="2.7" fill="#f2c8f0" stroke="#fff" stroke-width="0.5"/>
<circle cx="618.58" cy="292.42" r="2.7" fill="#f2c8f0" stroke="#fff" stroke-width="0.5"/>
<circle cx="526.61" cy="281.43" r="2.7" fill="#f2c8f0" stroke="#fff" stroke-width="0.5"/>
<circle cx="518.43" cy="289.1" r="2.7" fill="#f2c8f0" stroke="#fff" stroke-width="0.5"/>
<circle cx="562.38" cy="228.54" r="2.7" fill="#f1c1c1" stroke="#fff" stroke-width="0.5"/>
<circle cx="563.14" cy="232.89" r="2.7" fill="#f1c1c1" stroke="#fff" stroke-width="0.5"/>
<circle cx="605.3" cy="277.6" r="2.7" fill="#f1c1c1" stroke="#fff" stroke-width="0.5"/>
<circle cx="558.54" cy="291.65" r="2.7" fill="#f1c1c1" stroke="#fff" stroke-width="0.5"/>
<circle cx="554.71" cy="300.59" r="2.7" fill="#f1c1c1" stroke="#fff" stroke-width="0.5"/>
<circle cx="556.5" cy="304.68" r="2.7" fill="#f1c1c1" stroke="#fff" stroke-width="0.5"/>
<circle cx="566.21" cy="309.02" r="2.7" fill="#f1c1c1" stroke="#fff" stroke-width="0.5"/>
<circle cx="541.94" cy="313.37" r="2.7" fill="#f1c1c1" stroke="#fff" stroke-width="0.5"/>
<circle cx="545.26" cy="319.24" r="2.7" fill="#f1c1c1" stroke="#fff" stroke-width="0.5"/>
<circle cx="550.11" cy="320.52" r="2.7" fill="#f1c1c1" stroke="#fff" stroke-width="0.5"/>
<circle cx="550.88" cy="322.31" r="2.7" fill="#f1c1c1" stroke="#fff" stroke-width="0.5"/>
<circle cx="557.27" cy="321.29" r="2.7" fill="#f1c1c1" stroke="#fff" stroke-width="0.5"/>
<circle cx="542.45" cy="326.14" r="2.7" fill="#f1c1c1" stroke="#fff" stroke-width="0.5"/>
<circle cx="545.77" cy="327.42" r="2.7" fill="#f1c1c1" stroke="#fff" stroke-width="0.5"/>
<circle cx="560.33" cy="326.4" r="2.7" fill="#f1c1c1" stroke="#fff" stroke-width="0.5"/>
<circle cx="569.27" cy="330.74" r="2.7" fill="#f1c1c1" stroke="#fff" stroke-width="0.5"/>
<circle cx="562.89" cy="334.57" r="2.7" fill="#f1c1c1" stroke="#fff" stroke-width="0.5"/>
<circle cx="550.37" cy="335.08" r="2.7" fill="#f1c1c1" stroke="#fff" stroke-width="0.5"/>
<circle cx="559.82" cy="339.68" r="2.7" fill="#f1c1c1" stroke="#fff" stroke-width="0.5"/>
<circle cx="566.21" cy="342.24" r="2.7" fill="#f1c1c1" stroke="#fff" stroke-width="0.5"/>
<circle cx="562.38" cy="344.28" r="2.7" fill="#f1c1c1" stroke="#fff" stroke-width="0.5"/>
<circle cx="583.33" cy="306.47" r="2.7" fill="#f1c1c1" stroke="#fff" stroke-width="0.5"/>
<circle cx="581.03" cy="310.3" r="2.7" fill="#f1c1c1" stroke="#fff" stroke-width="0.5"/>
<circle cx="577.19" cy="312.09" r="2.7" fill="#f1c1c1" stroke="#fff" stroke-width="0.5"/>
<circle cx="584.6" cy="310.81" r="2.7" fill="#f1c1c1" stroke="#fff" stroke-width="0.5"/>
<circle cx="587.41" cy="310.81" r="2.7" fill="#f1c1c1" stroke="#fff" stroke-width="0.5"/>
<circle cx="585.37" cy="317.97" r="2.7" fill="#f1c1c1" stroke="#fff" stroke-width="0.5"/>
<circle cx="584.09" cy="320.52" r="2.7" fill="#f1c1c1" stroke="#fff" stroke-width="0.5"/>
<circle cx="573.87" cy="319.24" r="2.7" fill="#f1c1c1" stroke="#fff" stroke-width="0.5"/>
<circle cx="572.08" cy="227.01" r="2.7" fill="#d6ecd0" stroke="#fff" stroke-width="0.5"/>
<circle cx="584.09" cy="235.7" r="2.7" fill="#d6ecd0" stroke="#fff" stroke-width="0.5"/>
<circle cx="522.77" cy="272.74" r="2.7" fill="#d6ecd0" stroke="#fff" stroke-width="0.5"/>
<circle cx="644.13" cy="272.49" r="2.7" fill="#d6ecd0" stroke="#fff" stroke-width="0.5"/>
<circle cx="654.35" cy="272.74" r="2.7" fill="#d6ecd0" stroke="#fff" stroke-width="0.5"/>
<circle cx="641.07" cy="277.6" r="2.7" fill="#d6ecd0" stroke="#fff" stroke-width="0.5"/>
<circle cx="636.98" cy="296.25" r="2.7" fill="#d6ecd0" stroke="#fff" stroke-width="0.5"/>
<circle cx="642.86" cy="296.25" r="2.7" fill="#d6ecd0" stroke="#fff" stroke-width="0.5"/>
<circle cx="647.2" cy="298.8" r="2.7" fill="#d6ecd0" stroke="#fff" stroke-width="0.5"/>
<circle cx="634.43" cy="302.64" r="2.7" fill="#d6ecd0" stroke="#fff" stroke-width="0.5"/>
<circle cx="636.98" cy="305.19" r="2.7" fill="#d6ecd0" stroke="#fff" stroke-width="0.5"/>
<circle cx="642.09" cy="304.43" r="2.7" fill="#d6ecd0" stroke="#fff" stroke-width="0.5"/>
<circle cx="647.97" cy="305.19" r="2.7" fill="#d6ecd0" stroke="#fff" stroke-width="0.5"/>
<circle cx="651.29" cy="305.96" r="2.7" fill="#d6ecd0" stroke="#fff" stroke-width="0.5"/>
<circle cx="648.73" cy="309.54" r="2.7" fill="#d6ecd0" stroke="#fff" stroke-width="0.5"/>
<circle cx="658.19" cy="294.97" r="2.7" fill="#d6ecd0" stroke="#fff" stroke-width="0.5"/>
<circle cx="642.35" cy="319.5" r="2.7" fill="#d6ecd0" stroke="#fff" stroke-width="0.5"/>
<circle cx="585.37" cy="250.26" r="2.7" fill="#a1cde9" stroke="#fff" stroke-width="0.5"/>
<circle cx="579.75" cy="256.14" r="2.7" fill="#a1cde9" stroke="#fff" stroke-width="0.5"/>
<circle cx="578.98" cy="260.48" r="2.7" fill="#a1cde9" stroke="#fff" stroke-width="0.5"/>
<circle cx="573.11" cy="263.04" r="2.7" fill="#a1cde9" stroke="#fff" stroke-width="0.5"/>
<circle cx="570.04" cy="268.91" r="2.7" fill="#a1cde9" stroke="#fff" stroke-width="0.5"/>
<circle cx="577.71" cy="269.93" r="2.7" fill="#a1cde9" stroke="#fff" stroke-width="0.5"/>
<circle cx="591.25" cy="260.99" r="2.7" fill="#a1cde9" stroke="#fff" stroke-width="0.5"/>
<circle cx="593.04" cy="264.31" r="2.7" fill="#a1cde9" stroke="#fff" stroke-width="0.5"/>
<circle cx="596.1" cy="267.63" r="2.7" fill="#a1cde9" stroke="#fff" stroke-width="0.5"/>
<circle cx="566.72" cy="276.32" r="2.7" fill="#a1cde9" stroke="#fff" stroke-width="0.5"/>
<circle cx="564.42" cy="278.36" r="2.7" fill="#a1cde9" stroke="#fff" stroke-width="0.5"/>
<circle cx="578.22" cy="275.81" r="2.7" fill="#a1cde9" stroke="#fff" stroke-width="0.5"/>
<circle cx="584.09" cy="274.53" r="2.7" fill="#a1cde9" stroke="#fff" stroke-width="0.5"/>
<circle cx="587.93" cy="277.85" r="2.7" fill="#a1cde9" stroke="#fff" stroke-width="0.5"/>
<circle cx="593.04" cy="282.96" r="2.7" fill="#a1cde9" stroke="#fff" stroke-width="0.5"/>
<circle cx="574.64" cy="289.1" r="2.7" fill="#a1cde9" stroke="#fff" stroke-width="0.5"/>
<circle cx="575.66" cy="292.42" r="2.7" fill="#a1cde9" stroke="#fff" stroke-width="0.5"/>
<circle cx="581.54" cy="292.42" r="2.7" fill="#a1cde9" stroke="#fff" stroke-width="0.5"/>
<circle cx="585.88" cy="291.14" r="2.7" fill="#a1cde9" stroke="#fff" stroke-width="0.5"/>
<circle cx="586.65" cy="289.1" r="2.7" fill="#a1cde9" stroke="#fff" stroke-width="0.5"/>
<circle cx="596.87" cy="295.48" r="2.7" fill="#a1cde9" stroke="#fff" stroke-width="0.5"/>
<circle cx="603.25" cy="287.31" r="2.7" fill="#a1cde9" stroke="#fff" stroke-width="0.5"/>
<circle cx="605.81" cy="288.58" r="2.7" fill="#a1cde9" stroke="#fff" stroke-width="0.5"/>
<circle cx="654.86" cy="276.32" r="2.7" fill="#a1cde9" stroke="#fff" stroke-width="0.5"/>
<circle cx="653.59" cy="285.52" r="2.7" fill="#a1cde9" stroke="#fff" stroke-width="0.5"/>
<circle cx="628.29" cy="228.03" r="2.7" fill="#e8c070" stroke="#fff" stroke-width="0.5"/>
<circle cx="558.54" cy="286.29" r="2.7" fill="#e8c070" stroke="#fff" stroke-width="0.5"/>
<circle cx="572.08" cy="297.02" r="2.7" fill="#e8c070" stroke="#fff" stroke-width="0.5"/>
<circle cx="606.58" cy="306.98" r="2.7" fill="#e8c070" stroke="#fff" stroke-width="0.5"/>
<circle cx="612.2" cy="304.43" r="2.7" fill="#e8c070" stroke="#fff" stroke-width="0.5"/>
<circle cx="604.02" cy="310.81" r="2.7" fill="#e8c070" stroke="#fff" stroke-width="0.5"/>
<circle cx="608.36" cy="312.86" r="2.7" fill="#e8c070" stroke="#fff" stroke-width="0.5"/>
<circle cx="598.66" cy="315.41" r="2.7" fill="#e8c070" stroke="#fff" stroke-width="0.5"/>
<circle cx="604.02" cy="316.69" r="2.7" fill="#e8c070" stroke="#fff" stroke-width="0.5"/>
<circle cx="610.92" cy="319.24" r="2.7" fill="#e8c070" stroke="#fff" stroke-width="0.5"/>
<circle cx="614.75" cy="315.41" r="2.7" fill="#e8c070" stroke="#fff" stroke-width="0.5"/>
<circle cx="618.58" cy="318.73" r="2.7" fill="#e8c070" stroke="#fff" stroke-width="0.5"/>
<circle cx="609.64" cy="323.08" r="2.7" fill="#e8c070" stroke="#fff" stroke-width="0.5"/>
<circle cx="612.2" cy="325.63" r="2.7" fill="#e8c070" stroke="#fff" stroke-width="0.5"/>
<circle cx="608.36" cy="326.91" r="2.7" fill="#e8c070" stroke="#fff" stroke-width="0.5"/>
<circle cx="596.1" cy="328.95" r="2.7" fill="#e8c070" stroke="#fff" stroke-width="0.5"/>
<circle cx="603.25" cy="330.74" r="2.7" fill="#e8c070" stroke="#fff" stroke-width="0.5"/>
<circle cx="614.24" cy="328.19" r="2.7" fill="#e8c070" stroke="#fff" stroke-width="0.5"/>
<circle cx="610.41" cy="332.53" r="2.7" fill="#e8c070" stroke="#fff" stroke-width="0.5"/>
<circle cx="616.8" cy="335.08" r="2.7" fill="#e8c070" stroke="#fff" stroke-width="0.5"/>
<circle cx="609.13" cy="337.64" r="2.7" fill="#e8c070" stroke="#fff" stroke-width="0.5"/>
<circle cx="624.97" cy="326.4" r="2.7" fill="#e8c070" stroke="#fff" stroke-width="0.5"/>
<circle cx="532.99" cy="240.55" r="2.7" fill="#f88273" stroke="#fff" stroke-width="0.5"/>
<circle cx="537.59" cy="240.04" r="2.7" fill="#f88273" stroke="#fff" stroke-width="0.5"/>
<circle cx="541.43" cy="244.38" r="2.7" fill="#f88273" stroke="#fff" stroke-width="0.5"/>
<circle cx="535.04" cy="246.94" r="2.7" fill="#f88273" stroke="#fff" stroke-width="0.5"/>
<circle cx="536.83" cy="249.49" r="2.7" fill="#f88273" stroke="#fff" stroke-width="0.5"/>
<circle cx="542.45" cy="253.58" r="2.7" fill="#f88273" stroke="#fff" stroke-width="0.5"/>
<circle cx="532.99" cy="256.14" r="2.7" fill="#f88273" stroke="#fff" stroke-width="0.5"/>
<circle cx="538.1" cy="257.41" r="2.7" fill="#f88273" stroke="#fff" stroke-width="0.5"/>
<circle cx="555.99" cy="234.42" r="2.7" fill="#f88273" stroke="#fff" stroke-width="0.5"/>
<circle cx="552.67" cy="250.26" r="2.7" fill="#f88273" stroke="#fff" stroke-width="0.5"/>
<circle cx="562.38" cy="248.98" r="2.7" fill="#f88273" stroke="#fff" stroke-width="0.5"/>
<circle cx="558.54" cy="252.82" r="2.7" fill="#f88273" stroke="#fff" stroke-width="0.5"/>
<circle cx="554.2" cy="256.14" r="2.7" fill="#f88273" stroke="#fff" stroke-width="0.5"/>
<circle cx="557.27" cy="261.25" r="2.7" fill="#f88273" stroke="#fff" stroke-width="0.5"/>
<circle cx="545.77" cy="268.15" r="2.7" fill="#f88273" stroke="#fff" stroke-width="0.5"/>
<circle cx="544.49" cy="269.42" r="2.7" fill="#f88273" stroke="#fff" stroke-width="0.5"/>
<circle cx="529.16" cy="271.98" r="2.7" fill="#f88273" stroke="#fff" stroke-width="0.5"/>
<circle cx="536.83" cy="273.25" r="2.7" fill="#f88273" stroke="#fff" stroke-width="0.5"/>
<circle cx="534.27" cy="276.58" r="2.7" fill="#f88273" stroke="#fff" stroke-width="0.5"/>
<circle cx="541.94" cy="286.54" r="2.7" fill="#f88273" stroke="#fff" stroke-width="0.5"/>
<circle cx="550.37" cy="285.52" r="2.7" fill="#f88273" stroke="#fff" stroke-width="0.5"/>
<circle cx="536.32" cy="295.74" r="2.7" fill="#f88273" stroke="#fff" stroke-width="0.5"/>
<circle cx="536.32" cy="297.53" r="2.7" fill="#f88273" stroke="#fff" stroke-width="0.5"/>
<circle cx="637.75" cy="215" r="2.7" fill="#e8702a" stroke="#fff" stroke-width="0.5"/>
<circle cx="641.58" cy="215.77" r="2.7" fill="#e8702a" stroke="#fff" stroke-width="0.5"/>
<circle cx="645.41" cy="216.28" r="2.7" fill="#e8702a" stroke="#fff" stroke-width="0.5"/>
<circle cx="636.98" cy="225.99" r="2.7" fill="#e8702a" stroke="#fff" stroke-width="0.5"/>
<circle cx="640.3" cy="225.48" r="2.7" fill="#e8702a" stroke="#fff" stroke-width="0.5"/>
<circle cx="641.58" cy="231.87" r="2.7" fill="#e8702a" stroke="#fff" stroke-width="0.5"/>
<circle cx="647.97" cy="230.59" r="2.7" fill="#e8702a" stroke="#fff" stroke-width="0.5"/>
<circle cx="664.57" cy="218.32" r="2.7" fill="#e8702a" stroke="#fff" stroke-width="0.5"/>
<circle cx="661.25" cy="220.37" r="2.7" fill="#e8702a" stroke="#fff" stroke-width="0.5"/>
<circle cx="668.41" cy="222.92" r="2.7" fill="#e8702a" stroke="#fff" stroke-width="0.5"/>
<circle cx="663.3" cy="226.5" r="2.7" fill="#e8702a" stroke="#fff" stroke-width="0.5"/>
<circle cx="668.41" cy="225.99" r="2.7" fill="#e8702a" stroke="#fff" stroke-width="0.5"/>
<circle cx="660.23" cy="237.74" r="2.7" fill="#e8702a" stroke="#fff" stroke-width="0.5"/>
<circle cx="615.26" cy="235.7" r="2.7" fill="#e8702a" stroke="#fff" stroke-width="0.5"/>
<circle cx="617.31" cy="234.16" r="2.7" fill="#e8702a" stroke="#fff" stroke-width="0.5"/>
<circle cx="627.02" cy="242.08" r="2.7" fill="#e8702a" stroke="#fff" stroke-width="0.5"/>
<circle cx="636.47" cy="245.66" r="2.7" fill="#e8702a" stroke="#fff" stroke-width="0.5"/>
<circle cx="642.35" cy="242.6" r="2.7" fill="#e8702a" stroke="#fff" stroke-width="0.5"/>
<circle cx="647.97" cy="242.08" r="2.7" fill="#e8702a" stroke="#fff" stroke-width="0.5"/>
<circle cx="655.12" cy="243.87" r="2.7" fill="#e8702a" stroke="#fff" stroke-width="0.5"/>
<circle cx="656.4" cy="249.49" r="2.7" fill="#e8702a" stroke="#fff" stroke-width="0.5"/>
<circle cx="657.42" cy="255.11" r="2.7" fill="#e8702a" stroke="#fff" stroke-width="0.5"/>
<circle cx="640.81" cy="256.39" r="2.7" fill="#e8702a" stroke="#fff" stroke-width="0.5"/>
<circle cx="606.32" cy="252.82" r="2.7" fill="#e8702a" stroke="#fff" stroke-width="0.5"/>
<circle cx="610.15" cy="263.04" r="2.7" fill="#e8702a" stroke="#fff" stroke-width="0.5"/>
<circle cx="594.31" cy="302.64" r="2.7" fill="#e8702a" stroke="#fff" stroke-width="0.5"/>
<circle cx="597.63" cy="303.4" r="2.7" fill="#e8702a" stroke="#fff" stroke-width="0.5"/>
<circle cx="630.59" cy="326.4" r="2.7" fill="#e8702a" stroke="#fff" stroke-width="0.5"/>
<circle cx="597.63" cy="245.15" r="2.7" fill="#2b78b8" stroke="#fff" stroke-width="0.5"/>
<circle cx="601.47" cy="241.32" r="2.7" fill="#2b78b8" stroke="#fff" stroke-width="0.5"/>
<circle cx="610.15" cy="240.55" r="2.7" fill="#2b78b8" stroke="#fff" stroke-width="0.5"/>
<circle cx="619.86" cy="250.77" r="2.7" fill="#2b78b8" stroke="#fff" stroke-width="0.5"/>
<circle cx="619.35" cy="257.41" r="2.7" fill="#2b78b8" stroke="#fff" stroke-width="0.5"/>
<circle cx="624.97" cy="258.69" r="2.7" fill="#2b78b8" stroke="#fff" stroke-width="0.5"/>
<circle cx="626.5" cy="260.22" r="2.7" fill="#2b78b8" stroke="#fff" stroke-width="0.5"/>
<circle cx="624.97" cy="296.5" r="2.7" fill="#2b78b8" stroke="#fff" stroke-width="0.5"/>
<text x="593.5" y="391" font-size="8.8" text-anchor="middle">Unpretrained representations</text>
<path d="M510.5,403.8 V569.6 H677" fill="none" stroke="#9a9a9a" stroke-width="1"/>
<text x="503.2" y="486.5" font-size="8.8" text-anchor="middle" transform="rotate(-90 503.2 486.5)">t-SNE 2</text>
<text x="593.5" y="583.6" font-size="8.8" text-anchor="middle">t-SNE 1</text>
<circle cx="521.83" cy="421.68" r="2.7" fill="#f1c1c1" stroke="#fff" stroke-width="0.5"/>
<circle cx="518.54" cy="424.31" r="2.7" fill="#f1c1c1" stroke="#fff" stroke-width="0.5"/>
<circle cx="523.14" cy="424.97" r="2.7" fill="#f1c1c1" stroke="#fff" stroke-width="0.5"/>
<circle cx="520.51" cy="426.94" r="2.7" fill="#f1c1c1" stroke="#fff" stroke-width="0.5"/>
<circle cx="523.14" cy="428.25" r="2.7" fill="#f1c1c1" stroke="#fff" stroke-width="0.5"/>
<circle cx="517.88" cy="423.65" r="2.7" fill="#f1c1c1" stroke="#fff" stroke-width="0.5"/>
<circle cx="597.88" cy="489.86" r="2.7" fill="#f1c1c1" stroke="#fff" stroke-width="0.5"/>
<circle cx="606.43" cy="493.14" r="2.7" fill="#f1c1c1" stroke="#fff" stroke-width="0.5"/>
<circle cx="607.74" cy="497.08" r="2.7" fill="#f1c1c1" stroke="#fff" stroke-width="0.5"/>
<circle cx="664.9" cy="554.24" r="2.7" fill="#f1c1c1" stroke="#fff" stroke-width="0.5"/>
<circle cx="667.53" cy="555.56" r="2.7" fill="#f1c1c1" stroke="#fff" stroke-width="0.5"/>
<circle cx="669.5" cy="558.84" r="2.7" fill="#f1c1c1" stroke="#fff" stroke-width="0.5"/>
<circle cx="659.65" cy="558.84" r="2.7" fill="#f1c1c1" stroke="#fff" stroke-width="0.5"/>
<circle cx="662.93" cy="557.53" r="2.7" fill="#f1c1c1" stroke="#fff" stroke-width="0.5"/>
<circle cx="665.56" cy="560.16" r="2.7" fill="#f1c1c1" stroke="#fff" stroke-width="0.5"/>
<circle cx="660.96" cy="561.47" r="2.7" fill="#f1c1c1" stroke="#fff" stroke-width="0.5"/>
<circle cx="663.59" cy="562.13" r="2.7" fill="#f1c1c1" stroke="#fff" stroke-width="0.5"/>
<circle cx="542.19" cy="412.48" r="2.7" fill="#f88273" stroke="#fff" stroke-width="0.5"/>
<circle cx="544.82" cy="411.17" r="2.7" fill="#f88273" stroke="#fff" stroke-width="0.5"/>
<circle cx="547.45" cy="412.48" r="2.7" fill="#f88273" stroke="#fff" stroke-width="0.5"/>
<circle cx="543.51" cy="414.45" r="2.7" fill="#f88273" stroke="#fff" stroke-width="0.5"/>
<circle cx="546.14" cy="413.14" r="2.7" fill="#f88273" stroke="#fff" stroke-width="0.5"/>
<circle cx="595.26" cy="489.2" r="2.7" fill="#f88273" stroke="#fff" stroke-width="0.5"/>
<circle cx="611.02" cy="495.37" r="2.7" fill="#f88273" stroke="#fff" stroke-width="0.5"/>
<circle cx="595.91" cy="544.39" r="2.7" fill="#f88273" stroke="#fff" stroke-width="0.5"/>
<circle cx="598.54" cy="543.07" r="2.7" fill="#f88273" stroke="#fff" stroke-width="0.5"/>
<circle cx="601.17" cy="545.05" r="2.7" fill="#f88273" stroke="#fff" stroke-width="0.5"/>
<circle cx="603.14" cy="547.67" r="2.7" fill="#f88273" stroke="#fff" stroke-width="0.5"/>
<circle cx="597.88" cy="547.02" r="2.7" fill="#f88273" stroke="#fff" stroke-width="0.5"/>
<circle cx="595.26" cy="550.96" r="2.7" fill="#f88273" stroke="#fff" stroke-width="0.5"/>
<circle cx="599.86" cy="550.3" r="2.7" fill="#f88273" stroke="#fff" stroke-width="0.5"/>
<circle cx="601.83" cy="549.65" r="2.7" fill="#f88273" stroke="#fff" stroke-width="0.5"/>
<circle cx="534.31" cy="437.45" r="2.7" fill="#d6ecd0" stroke="#fff" stroke-width="0.5"/>
<circle cx="542.85" cy="430.88" r="2.7" fill="#d6ecd0" stroke="#fff" stroke-width="0.5"/>
<circle cx="540.22" cy="440.74" r="2.7" fill="#d6ecd0" stroke="#fff" stroke-width="0.5"/>
<circle cx="536.28" cy="438.76" r="2.7" fill="#d6ecd0" stroke="#fff" stroke-width="0.5"/>
<circle cx="647.16" cy="523.36" r="2.7" fill="#d6ecd0" stroke="#fff" stroke-width="0.5"/>
<circle cx="650.45" cy="524.68" r="2.7" fill="#d6ecd0" stroke="#fff" stroke-width="0.5"/>
<circle cx="642.56" cy="531.25" r="2.7" fill="#d6ecd0" stroke="#fff" stroke-width="0.5"/>
<circle cx="640.59" cy="535.85" r="2.7" fill="#d6ecd0" stroke="#fff" stroke-width="0.5"/>
<circle cx="647.16" cy="540.71" r="2.7" fill="#d6ecd0" stroke="#fff" stroke-width="0.5"/>
<circle cx="637.04" cy="545.31" r="2.7" fill="#d6ecd0" stroke="#fff" stroke-width="0.5"/>
<circle cx="645.19" cy="535.19" r="2.7" fill="#d6ecd0" stroke="#fff" stroke-width="0.5"/>
<circle cx="541.27" cy="421.68" r="2.7" fill="#a1cde9" stroke="#fff" stroke-width="0.5"/>
<circle cx="542.85" cy="424.31" r="2.7" fill="#a1cde9" stroke="#fff" stroke-width="0.5"/>
<circle cx="541.54" cy="432.19" r="2.7" fill="#a1cde9" stroke="#fff" stroke-width="0.5"/>
<circle cx="544.17" cy="433.51" r="2.7" fill="#a1cde9" stroke="#fff" stroke-width="0.5"/>
<circle cx="542.19" cy="441.39" r="2.7" fill="#a1cde9" stroke="#fff" stroke-width="0.5"/>
<circle cx="540.22" cy="439.42" r="2.7" fill="#a1cde9" stroke="#fff" stroke-width="0.5"/>
<circle cx="544.82" cy="435.48" r="2.7" fill="#a1cde9" stroke="#fff" stroke-width="0.5"/>
<circle cx="666.22" cy="509.17" r="2.7" fill="#a1cde9" stroke="#fff" stroke-width="0.5"/>
<circle cx="655.7" cy="522.05" r="2.7" fill="#a1cde9" stroke="#fff" stroke-width="0.5"/>
<circle cx="659.65" cy="524.02" r="2.7" fill="#a1cde9" stroke="#fff" stroke-width="0.5"/>
<circle cx="645.19" cy="526.65" r="2.7" fill="#a1cde9" stroke="#fff" stroke-width="0.5"/>
<circle cx="642.56" cy="527.96" r="2.7" fill="#a1cde9" stroke="#fff" stroke-width="0.5"/>
<circle cx="647.16" cy="528.62" r="2.7" fill="#a1cde9" stroke="#fff" stroke-width="0.5"/>
<circle cx="649.79" cy="535.85" r="2.7" fill="#a1cde9" stroke="#fff" stroke-width="0.5"/>
<circle cx="641.91" cy="540.45" r="2.7" fill="#a1cde9" stroke="#fff" stroke-width="0.5"/>
<circle cx="651.76" cy="532.56" r="2.7" fill="#a1cde9" stroke="#fff" stroke-width="0.5"/>
<circle cx="647.82" cy="532.56" r="2.7" fill="#a1cde9" stroke="#fff" stroke-width="0.5"/>
<circle cx="656.36" cy="532.56" r="2.7" fill="#a1cde9" stroke="#fff" stroke-width="0.5"/>
<circle cx="552.05" cy="435.48" r="2.7" fill="#f2c8f0" stroke="#fff" stroke-width="0.5"/>
<circle cx="553.36" cy="432.85" r="2.7" fill="#f2c8f0" stroke="#fff" stroke-width="0.5"/>
<circle cx="550.74" cy="439.42" r="2.7" fill="#f2c8f0" stroke="#fff" stroke-width="0.5"/>
<circle cx="548.11" cy="440.74" r="2.7" fill="#f2c8f0" stroke="#fff" stroke-width="0.5"/>
<circle cx="546.14" cy="440.08" r="2.7" fill="#f2c8f0" stroke="#fff" stroke-width="0.5"/>
<circle cx="548.76" cy="442.71" r="2.7" fill="#f2c8f0" stroke="#fff" stroke-width="0.5"/>
<circle cx="554.68" cy="431.54" r="2.7" fill="#f2c8f0" stroke="#fff" stroke-width="0.5"/>
<circle cx="605.77" cy="499.05" r="2.7" fill="#f2c8f0" stroke="#fff" stroke-width="0.5"/>
<circle cx="638.62" cy="512.85" r="2.7" fill="#f2c8f0" stroke="#fff" stroke-width="0.5"/>
<circle cx="641.25" cy="515.22" r="2.7" fill="#f2c8f0" stroke="#fff" stroke-width="0.5"/>
<circle cx="635.99" cy="516.14" r="2.7" fill="#f2c8f0" stroke="#fff" stroke-width="0.5"/>
<circle cx="632.05" cy="518.37" r="2.7" fill="#f2c8f0" stroke="#fff" stroke-width="0.5"/>
<circle cx="629.42" cy="518.76" r="2.7" fill="#f2c8f0" stroke="#fff" stroke-width="0.5"/>
<circle cx="634.02" cy="520.74" r="2.7" fill="#f2c8f0" stroke="#fff" stroke-width="0.5"/>
<circle cx="639.28" cy="519.42" r="2.7" fill="#f2c8f0" stroke="#fff" stroke-width="0.5"/>
<circle cx="636.65" cy="518.11" r="2.7" fill="#f2c8f0" stroke="#fff" stroke-width="0.5"/>
<circle cx="639.67" cy="521.39" r="2.7" fill="#f2c8f0" stroke="#fff" stroke-width="0.5"/>
<circle cx="538.91" cy="427.86" r="2.7" fill="#e8c070" stroke="#fff" stroke-width="0.5"/>
<circle cx="545.48" cy="426.94" r="2.7" fill="#e8c070" stroke="#fff" stroke-width="0.5"/>
<circle cx="538.25" cy="435.48" r="2.7" fill="#e8c070" stroke="#fff" stroke-width="0.5"/>
<circle cx="536.94" cy="436.79" r="2.7" fill="#e8c070" stroke="#fff" stroke-width="0.5"/>
<circle cx="538.25" cy="439.42" r="2.7" fill="#e8c070" stroke="#fff" stroke-width="0.5"/>
<circle cx="547.45" cy="426.28" r="2.7" fill="#e8c070" stroke="#fff" stroke-width="0.5"/>
<circle cx="596.18" cy="492.48" r="2.7" fill="#e8c070" stroke="#fff" stroke-width="0.5"/>
<circle cx="603.8" cy="496.43" r="2.7" fill="#e8c070" stroke="#fff" stroke-width="0.5"/>
<circle cx="652.81" cy="518.76" r="2.7" fill="#e8c070" stroke="#fff" stroke-width="0.5"/>
<circle cx="654.39" cy="525.34" r="2.7" fill="#e8c070" stroke="#fff" stroke-width="0.5"/>
<circle cx="654.13" cy="529.67" r="2.7" fill="#e8c070" stroke="#fff" stroke-width="0.5"/>
<circle cx="658.33" cy="529.67" r="2.7" fill="#e8c070" stroke="#fff" stroke-width="0.5"/>
<circle cx="653.47" cy="538.48" r="2.7" fill="#e8c070" stroke="#fff" stroke-width="0.5"/>
<circle cx="650.45" cy="539.79" r="2.7" fill="#e8c070" stroke="#fff" stroke-width="0.5"/>
<circle cx="635.99" cy="538.87" r="2.7" fill="#e8c070" stroke="#fff" stroke-width="0.5"/>
<circle cx="550.34" cy="417.08" r="2.7" fill="#e8702a" stroke="#fff" stroke-width="0.5"/>
<circle cx="552.71" cy="424.97" r="2.7" fill="#e8702a" stroke="#fff" stroke-width="0.5"/>
<circle cx="555.34" cy="427.6" r="2.7" fill="#e8702a" stroke="#fff" stroke-width="0.5"/>
<circle cx="550.74" cy="429.57" r="2.7" fill="#e8702a" stroke="#fff" stroke-width="0.5"/>
<circle cx="553.36" cy="428.25" r="2.7" fill="#e8702a" stroke="#fff" stroke-width="0.5"/>
<circle cx="549.42" cy="430.88" r="2.7" fill="#e8702a" stroke="#fff" stroke-width="0.5"/>
<circle cx="647.56" cy="519.42" r="2.7" fill="#e8702a" stroke="#fff" stroke-width="0.5"/>
<circle cx="624.56" cy="526.25" r="2.7" fill="#e8702a" stroke="#fff" stroke-width="0.5"/>
<circle cx="617.6" cy="529.28" r="2.7" fill="#e8702a" stroke="#fff" stroke-width="0.5"/>
<circle cx="621.54" cy="529.93" r="2.7" fill="#e8702a" stroke="#fff" stroke-width="0.5"/>
<circle cx="631.13" cy="529.01" r="2.7" fill="#e8702a" stroke="#fff" stroke-width="0.5"/>
<circle cx="628.11" cy="530.59" r="2.7" fill="#e8702a" stroke="#fff" stroke-width="0.5"/>
<circle cx="625.22" cy="532.56" r="2.7" fill="#e8702a" stroke="#fff" stroke-width="0.5"/>
<circle cx="618.91" cy="536.24" r="2.7" fill="#e8702a" stroke="#fff" stroke-width="0.5"/>
<circle cx="622.19" cy="535.85" r="2.7" fill="#e8702a" stroke="#fff" stroke-width="0.5"/>
<circle cx="625.48" cy="536.5" r="2.7" fill="#e8702a" stroke="#fff" stroke-width="0.5"/>
<circle cx="629.42" cy="537.56" r="2.7" fill="#e8702a" stroke="#fff" stroke-width="0.5"/>
<circle cx="628.11" cy="541.76" r="2.7" fill="#e8702a" stroke="#fff" stroke-width="0.5"/>
<circle cx="622.19" cy="538.48" r="2.7" fill="#e8702a" stroke="#fff" stroke-width="0.5"/>
<circle cx="629.42" cy="533.22" r="2.7" fill="#e8702a" stroke="#fff" stroke-width="0.5"/>
<circle cx="620.22" cy="532.56" r="2.7" fill="#e8702a" stroke="#fff" stroke-width="0.5"/>
<circle cx="523.14" cy="440.08" r="2.7" fill="#2b78b8" stroke="#fff" stroke-width="0.5"/>
<circle cx="664.24" cy="507.6" r="2.7" fill="#2b78b8" stroke="#fff" stroke-width="0.5"/>
<rect x="515" y="511.2" width="48" height="52.4" fill="#fff" stroke="#d0d0d0" stroke-width="0.5" rx="4"/>
<circle cx="522" cy="518" r="2.9" fill="#e8702a"/>
<text x="527.8" y="520.3" font-size="6.5">A1</text>
<circle cx="543" cy="518" r="2.9" fill="#f1c1c1"/>
<text x="548.8" y="520.3" font-size="6.5">A2</text>
<circle cx="522" cy="531" r="2.9" fill="#e8c070"/>
<text x="527.8" y="533.3" font-size="6.5">A3</text>
<circle cx="543" cy="531" r="2.9" fill="#a1cde9"/>
<text x="548.8" y="533.3" font-size="6.5">A4</text>
<circle cx="522" cy="544" r="2.9" fill="#d6ecd0"/>
<text x="527.8" y="546.3" font-size="6.5">A5</text>
<circle cx="543" cy="544" r="2.9" fill="#f2c8f0"/>
<text x="548.8" y="546.3" font-size="6.5">A6</text>
<circle cx="522" cy="557" r="2.9" fill="#2b78b8"/>
<text x="527.8" y="559.3" font-size="6.5">A7</text>
<circle cx="543" cy="557" r="2.9" fill="#f88273"/>
<text x="548.8" y="559.3" font-size="6.5">A8</text>
<text x="0.4" y="608.3" font-size="13" style="fill:#000" font-weight="bold" stroke="#000" stroke-width="0.35">f</text>
<polygon points="94.25,673.97 107.88,684.22 102.68,700.79 85.82,700.79 80.62,684.22" fill="none" stroke="#6a6a6a" stroke-width="0.45" stroke-dasharray="0.9 0.9"/>
<polygon points="94.25,659.15 121.52,679.64 111.1,712.79 77.4,712.79 66.98,679.64" fill="none" stroke="#6a6a6a" stroke-width="0.45" stroke-dasharray="0.9 0.9"/>
<polygon points="94.25,644.32 135.15,675.06 119.53,724.78 68.97,724.78 53.35,675.06" fill="none" stroke="#6a6a6a" stroke-width="0.45" stroke-dasharray="0.9 0.9"/>
<polygon points="94.25,629.5 148.79,670.48 127.96,736.77 60.54,736.77 39.71,670.48" fill="none" stroke="#6a6a6a" stroke-width="0.45" stroke-dasharray="0.9 0.9"/>
<line x1="94.25" y1="688.8" x2="94.25" y2="629.5" stroke="#6a6a6a" stroke-width="0.45" stroke-dasharray="0.9 0.9"/>
<line x1="94.25" y1="688.8" x2="148.79" y2="670.48" stroke="#6a6a6a" stroke-width="0.45" stroke-dasharray="0.9 0.9"/>
<line x1="94.25" y1="688.8" x2="127.96" y2="736.77" stroke="#6a6a6a" stroke-width="0.45" stroke-dasharray="0.9 0.9"/>
<line x1="94.25" y1="688.8" x2="60.54" y2="736.77" stroke="#6a6a6a" stroke-width="0.45" stroke-dasharray="0.9 0.9"/>
<line x1="94.25" y1="688.8" x2="39.71" y2="670.48" stroke="#6a6a6a" stroke-width="0.45" stroke-dasharray="0.9 0.9"/>
<polygon points="94.25,634.96 134.94,675.4 126.7,734.06 72.03,719.33 43.83,673.9" fill="none" stroke="#f5b9bb" stroke-width="1.4" stroke-linejoin="round"/>
<circle cx="94.25" cy="634.96" r="1.8" fill="#f5b9bb"/>
<circle cx="134.94" cy="675.4" r="1.8" fill="#f5b9bb"/>
<circle cx="126.7" cy="734.06" r="1.8" fill="#f5b9bb"/>
<circle cx="72.03" cy="719.33" r="1.8" fill="#f5b9bb"/>
<circle cx="43.83" cy="673.9" r="1.8" fill="#f5b9bb"/>
<polygon points="94.25,637.45 131.94,676.89 122.96,728.57 75.53,714.84 51.81,675.4" fill="none" stroke="#8fbcf0" stroke-width="1.4" stroke-linejoin="round"/>
<circle cx="94.25" cy="637.45" r="1.8" fill="#8fbcf0"/>
<circle cx="131.94" cy="676.89" r="1.8" fill="#8fbcf0"/>
<circle cx="122.96" cy="728.57" r="1.8" fill="#8fbcf0"/>
<circle cx="75.53" cy="714.84" r="1.8" fill="#8fbcf0"/>
<circle cx="51.81" cy="675.4" r="1.8" fill="#8fbcf0"/>
<polygon points="94.25,654.18 121.71,679.89 105.73,704.85 86.26,700.36 77.03,683.63" fill="none" stroke="#e6bd62" stroke-width="1.4" stroke-linejoin="round"/>
<circle cx="94.25" cy="654.18" r="1.8" fill="#e6bd62"/>
<circle cx="121.71" cy="679.89" r="1.8" fill="#e6bd62"/>
<circle cx="105.73" cy="704.85" r="1.8" fill="#e6bd62"/>
<circle cx="86.26" cy="700.36" r="1.8" fill="#e6bd62"/>
<circle cx="77.03" cy="683.63" r="1.8" fill="#e6bd62"/>
<text x="94.05" y="612.6" font-size="8.7" text-anchor="middle">Antibacterial property</text>
<text x="94.45" y="627.3" font-size="9" text-anchor="middle">r.m.s.e.</text>
<text x="141.55" y="673" font-size="9">m.a.e.</text>
<text x="66.95" y="673" font-size="9" text-anchor="end">Top-5 r.m.s.e.</text>
<text x="91.95" y="747.6" font-size="9" text-anchor="end">Top-10 r.m.s.e.</text>
<text x="126.25" y="747.6" font-size="9" style="fill:#111">1-<tspan font-style="italic">R</tspan></text>
<text x="100.45" y="640.1" font-size="6.3" style="fill:#8a8a8a">0.2</text>
<text x="143.25" y="683.8" font-size="6.3" style="fill:#8a8a8a">0.16</text>
<text x="113.25" y="736.3" font-size="6.3" style="fill:#8a8a8a">0.6</text>
<text x="51.25" y="727.6" font-size="6.3" style="fill:#8a8a8a">0.5</text>
<text x="46.95" y="664.4" font-size="6.3" style="fill:#8a8a8a">0.5</text>
<text x="96.25" y="686.8" font-size="6.3" style="fill:#8a8a8a">0</text>
<polygon points="254.5,673.97 268.13,684.22 262.93,700.79 246.07,700.79 240.87,684.22" fill="none" stroke="#6a6a6a" stroke-width="0.45" stroke-dasharray="0.9 0.9"/>
<polygon points="254.5,659.15 281.77,679.64 271.35,712.79 237.65,712.79 227.23,679.64" fill="none" stroke="#6a6a6a" stroke-width="0.45" stroke-dasharray="0.9 0.9"/>
<polygon points="254.5,644.32 295.4,675.06 279.78,724.78 229.22,724.78 213.6,675.06" fill="none" stroke="#6a6a6a" stroke-width="0.45" stroke-dasharray="0.9 0.9"/>
<polygon points="254.5,629.5 309.04,670.48 288.21,736.77 220.79,736.77 199.96,670.48" fill="none" stroke="#6a6a6a" stroke-width="0.45" stroke-dasharray="0.9 0.9"/>
<line x1="254.5" y1="688.8" x2="254.5" y2="629.5" stroke="#6a6a6a" stroke-width="0.45" stroke-dasharray="0.9 0.9"/>
<line x1="254.5" y1="688.8" x2="309.04" y2="670.48" stroke="#6a6a6a" stroke-width="0.45" stroke-dasharray="0.9 0.9"/>
<line x1="254.5" y1="688.8" x2="288.21" y2="736.77" stroke="#6a6a6a" stroke-width="0.45" stroke-dasharray="0.9 0.9"/>
<line x1="254.5" y1="688.8" x2="220.79" y2="736.77" stroke="#6a6a6a" stroke-width="0.45" stroke-dasharray="0.9 0.9"/>
<line x1="254.5" y1="688.8" x2="199.96" y2="670.48" stroke="#6a6a6a" stroke-width="0.45" stroke-dasharray="0.9 0.9"/>
<polygon points="254.5,641.95 299.18,674.15 285.7,731.81 225.54,728.57 218.8,678.14" fill="none" stroke="#f5b9bb" stroke-width="1.4" stroke-linejoin="round"/>
<circle cx="254.5" cy="641.95" r="1.8" fill="#f5b9bb"/>
<circle cx="299.18" cy="674.15" r="1.8" fill="#f5b9bb"/>
<circle cx="285.7" cy="731.81" r="1.8" fill="#f5b9bb"/>
<circle cx="225.54" cy="728.57" r="1.8" fill="#f5b9bb"/>
<circle cx="218.8" cy="678.14" r="1.8" fill="#f5b9bb"/>
<polygon points="254.5,646.94 291.69,677.39 278.71,722.32 238.02,712.34 217.56,677.39" fill="none" stroke="#8fbcf0" stroke-width="1.4" stroke-linejoin="round"/>
<circle cx="254.5" cy="646.94" r="1.8" fill="#8fbcf0"/>
<circle cx="291.69" cy="677.39" r="1.8" fill="#8fbcf0"/>
<circle cx="278.71" cy="722.32" r="1.8" fill="#8fbcf0"/>
<circle cx="238.02" cy="712.34" r="1.8" fill="#8fbcf0"/>
<circle cx="217.56" cy="677.39" r="1.8" fill="#8fbcf0"/>
<polygon points="254.5,652.43 284.95,679.39 275.72,718.08 243.77,703.1 229.54,680.64" fill="none" stroke="#e6bd62" stroke-width="1.4" stroke-linejoin="round"/>
<circle cx="254.5" cy="652.43" r="1.8" fill="#e6bd62"/>
<circle cx="284.95" cy="679.39" r="1.8" fill="#e6bd62"/>
<circle cx="275.72" cy="718.08" r="1.8" fill="#e6bd62"/>
<circle cx="243.77" cy="703.1" r="1.8" fill="#e6bd62"/>
<circle cx="229.54" cy="680.64" r="1.8" fill="#e6bd62"/>
<text x="254.3" y="612.6" font-size="8.7" text-anchor="middle">Hemolytic property</text>
<text x="254.7" y="627.3" font-size="9" text-anchor="middle">r.m.s.e.</text>
<text x="301.8" y="673" font-size="9">m.a.e.</text>
<text x="227.2" y="673" font-size="9" text-anchor="end">Top-5 r.m.s.e.</text>
<text x="252.2" y="747.6" font-size="9" text-anchor="end">Top-10 r.m.s.e.</text>
<text x="286.5" y="747.6" font-size="9" style="fill:#111">1-<tspan font-style="italic">R</tspan></text>
<text x="260.7" y="640.1" font-size="6.3" style="fill:#8a8a8a">0.2</text>
<text x="303.5" y="683.8" font-size="6.3" style="fill:#8a8a8a">0.16</text>
<text x="273.5" y="736.3" font-size="6.3" style="fill:#8a8a8a">0.4</text>
<text x="211.5" y="727.6" font-size="6.3" style="fill:#8a8a8a">0.2</text>
<text x="207.2" y="664.4" font-size="6.3" style="fill:#8a8a8a">0.12</text>
<text x="256.5" y="686.8" font-size="6.3" style="fill:#8a8a8a">0</text>
<line x1="311" y1="713.2" x2="327.2" y2="713.2" stroke="#f5b9bb" stroke-width="1.4"/>
<text x="331.6" y="715.7" font-size="7.3">Random initialized</text>
<line x1="311" y1="725.1" x2="327.2" y2="725.1" stroke="#8fbcf0" stroke-width="1.4"/>
<text x="331.6" y="727.6" font-size="7.3">Weighted sum</text>
<line x1="311" y1="737" x2="327.2" y2="737" stroke="#e6bd62" stroke-width="1.4"/>
<text x="331.6" y="739.5" font-size="7.3">Pretrained</text>
<text x="391.6" y="607.6" font-size="13" style="fill:#000" font-weight="bold" stroke="#000" stroke-width="0.35">g</text>
<text x="481" y="612.8" font-size="8.7" text-anchor="middle">Antibacterial property</text>
<line x1="428.5" y1="729.4" x2="533.7" y2="625.3" stroke="#cfcfcf" stroke-width="0.6"/>
<circle cx="435.1" cy="721.85" r="2.45" fill="#3b80c0" stroke="#fff" stroke-width="0.45"/>
<circle cx="450.36" cy="684.05" r="2.45" fill="#3b80c0" stroke="#fff" stroke-width="0.45"/>
<circle cx="468.35" cy="688.83" r="2.45" fill="#3b80c0" stroke="#fff" stroke-width="0.45"/>
<circle cx="479.97" cy="663.78" r="2.45" fill="#3b80c0" stroke="#fff" stroke-width="0.45"/>
<circle cx="489.76" cy="662.18" r="2.45" fill="#3b80c0" stroke="#fff" stroke-width="0.45"/>
<circle cx="505.02" cy="635.31" r="2.45" fill="#3b80c0" stroke="#fff" stroke-width="0.45"/>
<circle cx="501.83" cy="643.51" r="2.45" fill="#3b80c0" stroke="#fff" stroke-width="0.45"/>
<circle cx="510.94" cy="646.92" r="2.45" fill="#3b80c0" stroke="#fff" stroke-width="0.45"/>
<circle cx="513.67" cy="647.84" r="2.45" fill="#3b80c0" stroke="#fff" stroke-width="0.45"/>
<circle cx="514.13" cy="653.76" r="2.45" fill="#3b80c0" stroke="#fff" stroke-width="0.45"/>
<circle cx="517.54" cy="657.86" r="2.45" fill="#3b80c0" stroke="#fff" stroke-width="0.45"/>
<circle cx="519.82" cy="674.94" r="2.45" fill="#3b80c0" stroke="#fff" stroke-width="0.45"/>
<circle cx="494.77" cy="656.49" r="2.45" fill="#3b80c0" stroke="#fff" stroke-width="0.45"/>
<circle cx="494.31" cy="659.91" r="2.45" fill="#3b80c0" stroke="#fff" stroke-width="0.45"/>
<circle cx="495.91" cy="662.87" r="2.45" fill="#3b80c0" stroke="#fff" stroke-width="0.45"/>
<circle cx="498.19" cy="661.73" r="2.45" fill="#3b80c0" stroke="#fff" stroke-width="0.45"/>
<circle cx="495.45" cy="668.56" r="2.45" fill="#3b80c0" stroke="#fff" stroke-width="0.45"/>
<circle cx="498.41" cy="670.84" r="2.45" fill="#3b80c0" stroke="#fff" stroke-width="0.45"/>
<circle cx="500.24" cy="656.94" r="2.45" fill="#3b80c0" stroke="#fff" stroke-width="0.45"/>
<circle cx="502.29" cy="654.67" r="2.45" fill="#3b80c0" stroke="#fff" stroke-width="0.45"/>
<circle cx="503.42" cy="651.93" r="2.45" fill="#3b80c0" stroke="#fff" stroke-width="0.45"/>
<circle cx="505.02" cy="650.8" r="2.45" fill="#3b80c0" stroke="#fff" stroke-width="0.45"/>
<circle cx="506.84" cy="652.39" r="2.45" fill="#3b80c0" stroke="#fff" stroke-width="0.45"/>
<circle cx="509.12" cy="651.48" r="2.45" fill="#3b80c0" stroke="#fff" stroke-width="0.45"/>
<circle cx="505.7" cy="654.67" r="2.45" fill="#3b80c0" stroke="#fff" stroke-width="0.45"/>
<circle cx="503.42" cy="657.63" r="2.45" fill="#3b80c0" stroke="#fff" stroke-width="0.45"/>
<circle cx="507.98" cy="656.49" r="2.45" fill="#3b80c0" stroke="#fff" stroke-width="0.45"/>
<circle cx="505.7" cy="661.04" r="2.45" fill="#3b80c0" stroke="#fff" stroke-width="0.45"/>
<circle cx="508.43" cy="662.64" r="2.45" fill="#3b80c0" stroke="#fff" stroke-width="0.45"/>
<circle cx="504.56" cy="665.14" r="2.45" fill="#3b80c0" stroke="#fff" stroke-width="0.45"/>
<circle cx="501.15" cy="659.91" r="2.45" fill="#3b80c0" stroke="#fff" stroke-width="0.45"/>
<circle cx="510.26" cy="653.76" r="2.45" fill="#3b80c0" stroke="#fff" stroke-width="0.45"/>
<circle cx="507.52" cy="649.66" r="2.45" fill="#3b80c0" stroke="#fff" stroke-width="0.45"/>
<path d="M428.5,625.3 V729.5 H533.7" fill="none" stroke="#9a9a9a" stroke-width="1"/>
<line x1="428.5" y1="729.4" x2="428.5" y2="731.6" stroke="#444" stroke-width="0.5"/>
<text x="428.5" y="739.3" font-size="6.5" text-anchor="middle" style="fill:#333">0.0</text>
<line x1="426.3" y1="729.4" x2="428.5" y2="729.4" stroke="#444" stroke-width="0.5"/>
<text x="424.6" y="731.7" font-size="6.5" text-anchor="end" style="fill:#333">0.0</text>
<line x1="468.9" y1="729.4" x2="468.9" y2="731.6" stroke="#444" stroke-width="0.5"/>
<text x="468.9" y="739.3" font-size="6.5" text-anchor="middle" style="fill:#333">0.5</text>
<line x1="426.3" y1="689.3" x2="428.5" y2="689.3" stroke="#444" stroke-width="0.5"/>
<text x="424.6" y="691.6" font-size="6.5" text-anchor="end" style="fill:#333">0.5</text>
<line x1="509.3" y1="729.4" x2="509.3" y2="731.6" stroke="#444" stroke-width="0.5"/>
<text x="509.3" y="739.3" font-size="6.5" text-anchor="middle" style="fill:#333">1.0</text>
<line x1="426.3" y1="649.2" x2="428.5" y2="649.2" stroke="#444" stroke-width="0.5"/>
<text x="424.6" y="651.5" font-size="6.5" text-anchor="end" style="fill:#333">1.0</text>
<text x="406.4" y="677" font-size="8.75" text-anchor="middle" transform="rotate(-90 406.4 677)">Predicted value</text>
<text x="480.6" y="750" font-size="8.75" text-anchor="middle">Measured value</text>
<text x="491.6" y="720.3" font-size="8.6" style="fill:#111"><tspan font-style="italic">R</tspan> = 0.800</text>
<text x="628" y="612.8" font-size="8.7" text-anchor="middle">Hemolytic property</text>
<line x1="575.7" y1="729.4" x2="672" y2="633.7" stroke="#cfcfcf" stroke-width="0.6"/>
<circle cx="597.78" cy="667.19" r="2.45" fill="#3b80c0" stroke="#fff" stroke-width="0.45"/>
<circle cx="651.98" cy="656.49" r="2.45" fill="#3b80c0" stroke="#fff" stroke-width="0.45"/>
<circle cx="653.8" cy="656.49" r="2.45" fill="#3b80c0" stroke="#fff" stroke-width="0.45"/>
<circle cx="639.68" cy="678.81" r="2.45" fill="#3b80c0" stroke="#fff" stroke-width="0.45"/>
<circle cx="650.38" cy="688.15" r="2.45" fill="#3b80c0" stroke="#fff" stroke-width="0.45"/>
<circle cx="630.8" cy="688.37" r="2.45" fill="#3b80c0" stroke="#fff" stroke-width="0.45"/>
<circle cx="619.41" cy="691.79" r="2.45" fill="#3b80c0" stroke="#fff" stroke-width="0.45"/>
<circle cx="615.54" cy="696.34" r="2.45" fill="#3b80c0" stroke="#fff" stroke-width="0.45"/>
<circle cx="608.71" cy="692.47" r="2.45" fill="#3b80c0" stroke="#fff" stroke-width="0.45"/>
<circle cx="611.44" cy="701.35" r="2.45" fill="#3b80c0" stroke="#fff" stroke-width="0.45"/>
<circle cx="603.47" cy="697.25" r="2.45" fill="#3b80c0" stroke="#fff" stroke-width="0.45"/>
<circle cx="597.32" cy="694.75" r="2.45" fill="#3b80c0" stroke="#fff" stroke-width="0.45"/>
<circle cx="595.04" cy="695.89" r="2.45" fill="#3b80c0" stroke="#fff" stroke-width="0.45"/>
<circle cx="595.73" cy="697.48" r="2.45" fill="#3b80c0" stroke="#fff" stroke-width="0.45"/>
<circle cx="600.05" cy="700.22" r="2.45" fill="#3b80c0" stroke="#fff" stroke-width="0.45"/>
<circle cx="601.88" cy="702.04" r="2.45" fill="#3b80c0" stroke="#fff" stroke-width="0.45"/>
<circle cx="599.14" cy="703.86" r="2.45" fill="#3b80c0" stroke="#fff" stroke-width="0.45"/>
<circle cx="603.02" cy="706.59" r="2.45" fill="#3b80c0" stroke="#fff" stroke-width="0.45"/>
<circle cx="604.15" cy="708.87" r="2.45" fill="#3b80c0" stroke="#fff" stroke-width="0.45"/>
<circle cx="608.25" cy="710.01" r="2.45" fill="#3b80c0" stroke="#fff" stroke-width="0.45"/>
<circle cx="609.85" cy="710.01" r="2.45" fill="#3b80c0" stroke="#fff" stroke-width="0.45"/>
<circle cx="593.91" cy="704.31" r="2.45" fill="#3b80c0" stroke="#fff" stroke-width="0.45"/>
<circle cx="596.18" cy="705.45" r="2.45" fill="#3b80c0" stroke="#fff" stroke-width="0.45"/>
<circle cx="592.77" cy="707.73" r="2.45" fill="#3b80c0" stroke="#fff" stroke-width="0.45"/>
<circle cx="591.63" cy="710.01" r="2.45" fill="#3b80c0" stroke="#fff" stroke-width="0.45"/>
<circle cx="594.59" cy="710.01" r="2.45" fill="#3b80c0" stroke="#fff" stroke-width="0.45"/>
<circle cx="590.94" cy="711.6" r="2.45" fill="#3b80c0" stroke="#fff" stroke-width="0.45"/>
<circle cx="593.91" cy="712.29" r="2.45" fill="#3b80c0" stroke="#fff" stroke-width="0.45"/>
<circle cx="595.73" cy="712.97" r="2.45" fill="#3b80c0" stroke="#fff" stroke-width="0.45"/>
<circle cx="595.04" cy="707.05" r="2.45" fill="#3b80c0" stroke="#fff" stroke-width="0.45"/>
<path d="M575.6,625.1 V729.5 H680.4" fill="none" stroke="#9a9a9a" stroke-width="1"/>
<line x1="593" y1="729.4" x2="593" y2="731.6" stroke="#444" stroke-width="0.5"/>
<text x="593" y="739.3" font-size="6.5" text-anchor="middle" style="fill:#333">0.0</text>
<line x1="573.5" y1="712.1" x2="575.7" y2="712.1" stroke="#444" stroke-width="0.5"/>
<text x="571.8" y="714.4" font-size="6.5" text-anchor="end" style="fill:#333">0.0</text>
<line x1="636.7" y1="729.4" x2="636.7" y2="731.6" stroke="#444" stroke-width="0.5"/>
<text x="636.7" y="739.3" font-size="6.5" text-anchor="middle" style="fill:#333">0.5</text>
<line x1="573.5" y1="668.6" x2="575.7" y2="668.6" stroke="#444" stroke-width="0.5"/>
<text x="571.8" y="670.9" font-size="6.5" text-anchor="end" style="fill:#333">0.5</text>
<line x1="680.4" y1="729.4" x2="680.4" y2="731.6" stroke="#444" stroke-width="0.5"/>
<text x="680.4" y="739.3" font-size="6.5" text-anchor="middle" style="fill:#333">1.0</text>
<line x1="573.5" y1="625.1" x2="575.7" y2="625.1" stroke="#444" stroke-width="0.5"/>
<text x="571.8" y="627.4" font-size="6.5" text-anchor="end" style="fill:#333">1.0</text>
<text x="553.8" y="677" font-size="8.75" text-anchor="middle" transform="rotate(-90 553.8 677)">Predicted value</text>
<text x="628" y="750" font-size="8.75" text-anchor="middle">Measured value</text>
<text x="637.2" y="720.3" font-size="8.6" style="fill:#111"><tspan font-style="italic">R</tspan> = 0.764</text>
</svg>
</body></html>
